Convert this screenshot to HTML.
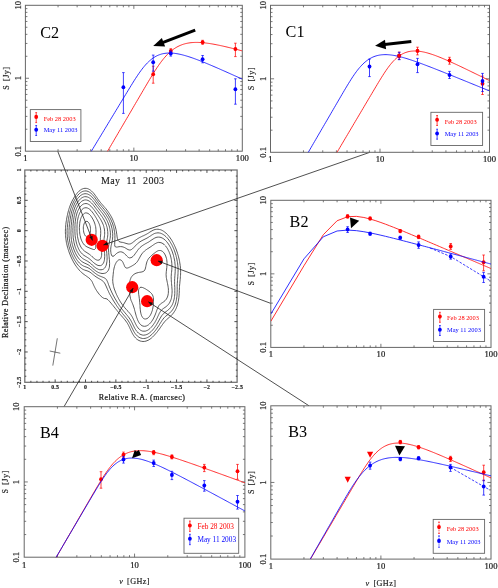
<!DOCTYPE html>
<html><head><meta charset="utf-8"><title>Component spectra</title>
<style>html,body{margin:0;padding:0;background:#fff;overflow:hidden}svg{display:block;will-change:transform}text{font-family:"Liberation Serif",serif}</style>
</head><body>
<svg width="498" height="588" viewBox="0 0 498 588">
<rect width="498" height="588" fill="#fff"/>
<defs>
<clipPath id="clC2"><rect x="25.4" y="5.3" width="216.90" height="145.90"/></clipPath>
<clipPath id="clC1"><rect x="270.5" y="5.3" width="219.00" height="147.00"/></clipPath>
<clipPath id="clB2"><rect x="270.8" y="200.3" width="220.20" height="147.10"/></clipPath>
<clipPath id="clB4"><rect x="24.2" y="406.7" width="220.70" height="150.50"/></clipPath>
<clipPath id="clB3"><rect x="270.8" y="405.8" width="220.20" height="153.30"/></clipPath>
<clipPath id="clmap"><rect x="24.8" y="170.0" width="212.5" height="212.3"/></clipPath>
</defs>
<path d="M146.0 341.1 L144.5 341.4 L143.0 341.5 L141.5 341.3 L140.2 341.0 L139.0 340.5 L138.0 340.0 L137.3 339.5 L136.5 338.9 L135.6 338.0 L135.0 337.3 L134.3 336.5 L133.6 335.5 L133.0 334.5 L132.5 333.7 L132.0 332.7 L131.5 331.7 L131.0 330.7 L130.5 329.6 L130.0 328.5 L129.6 327.5 L129.1 326.5 L128.6 325.5 L128.1 324.5 L127.5 323.5 L127.0 322.7 L126.5 322.0 L125.8 321.0 L125.0 320.0 L124.5 319.3 L123.8 318.5 L123.0 317.6 L122.5 317.0 L121.6 316.0 L121.0 315.3 L120.3 314.5 L119.5 313.5 L119.0 312.9 L118.2 312.0 L117.5 311.1 L117.0 310.5 L116.2 309.5 L115.5 308.7 L115.0 308.0 L114.2 307.0 L113.5 306.2 L113.0 305.5 L112.1 304.5 L111.5 303.7 L110.9 303.0 L110.0 302.0 L109.5 301.4 L108.7 300.5 L108.0 299.8 L107.0 299.0 L106.0 298.6 L104.5 298.5 L103.5 298.1 L102.5 297.5 L101.9 297.0 L101.0 296.2 L100.3 295.5 L99.5 294.6 L99.0 294.0 L98.3 293.0 L97.5 292.0 L97.0 291.2 L96.5 290.5 L95.9 289.5 L95.3 288.5 L94.8 287.5 L94.3 286.5 L93.8 285.5 L93.4 284.5 L92.9 283.5 L92.5 282.5 L92.0 281.5 L91.3 280.5 L90.5 279.5 L90.0 278.9 L89.0 278.0 L88.4 277.5 L87.5 276.9 L86.5 276.2 L85.5 275.5 L84.8 275.0 L84.0 274.4 L83.0 273.7 L82.2 273.0 L81.5 272.4 L80.6 271.5 L80.0 270.9 L79.1 270.0 L78.5 269.3 L77.9 268.5 L77.1 267.5 L76.5 266.7 L76.0 266.0 L75.3 265.0 L74.7 264.0 L74.1 263.0 L73.5 262.0 L73.0 261.0 L72.5 260.1 L72.0 259.1 L71.5 258.0 L71.0 257.0 L70.6 256.0 L70.2 255.0 L69.8 254.0 L69.4 253.0 L69.0 251.9 L68.5 250.5 L68.2 249.5 L67.9 248.5 L67.5 247.1 L67.2 246.0 L67.0 245.0 L66.6 243.5 L66.4 242.5 L66.2 241.0 L66.0 239.8 L65.8 238.5 L65.7 237.0 L65.5 235.5 L65.5 234.5 L65.4 233.0 L65.4 231.5 L65.4 230.0 L65.5 228.5 L65.5 227.5 L65.7 226.0 L65.8 224.5 L66.0 223.0 L66.1 222.0 L66.4 220.5 L66.5 219.5 L66.8 218.0 L67.0 217.0 L67.3 215.5 L67.5 214.5 L67.9 213.0 L68.1 212.0 L68.5 210.5 L68.8 209.5 L69.1 208.5 L69.5 207.3 L70.0 206.0 L70.3 205.0 L70.7 204.0 L71.2 203.0 L71.7 202.0 L72.1 201.0 L72.7 200.0 L73.2 199.0 L73.8 198.0 L74.4 197.0 L75.0 196.1 L75.5 195.3 L76.1 194.5 L76.9 193.5 L77.5 192.7 L78.2 192.0 L79.0 191.2 L79.8 190.5 L80.5 190.0 L81.5 189.3 L82.5 188.9 L83.6 188.5 L85.0 188.3 L86.5 188.4 L87.5 188.6 L88.5 189.0 L89.5 189.5 L90.5 190.2 L91.5 191.0 L92.0 191.5 L93.0 192.5 L93.5 193.1 L94.3 194.0 L95.0 195.0 L95.5 195.7 L96.1 196.5 L96.8 197.5 L97.5 198.5 L98.0 199.2 L98.5 200.0 L99.3 201.0 L100.0 201.9 L100.5 202.5 L101.3 203.5 L102.0 204.3 L102.6 205.0 L103.5 206.0 L104.0 206.6 L104.8 207.5 L105.5 208.3 L106.1 209.0 L106.9 210.0 L107.5 210.8 L108.0 211.5 L108.7 212.5 L109.4 213.5 L110.0 214.5 L110.5 215.3 L111.0 216.2 L111.5 217.1 L112.0 218.1 L112.5 219.1 L113.0 220.3 L113.5 221.4 L113.9 222.5 L114.3 223.5 L114.6 224.5 L115.0 225.7 L115.4 227.0 L115.6 228.0 L116.0 229.5 L116.2 230.5 L116.4 232.0 L116.6 233.0 L116.8 234.5 L117.0 236.0 L117.1 237.0 L117.4 238.5 L117.7 239.5 L118.1 240.5 L119.0 241.5 L120.0 241.9 L121.0 242.2 L122.5 242.4 L123.5 242.6 L124.8 243.0 L126.0 243.4 L127.0 243.7 L128.3 244.0 L129.5 244.0 L130.5 243.8 L131.5 243.3 L132.5 242.7 L133.3 242.0 L134.0 241.5 L135.0 240.6 L135.8 240.0 L136.5 239.5 L137.5 238.8 L138.5 238.2 L139.5 237.6 L140.5 237.1 L141.5 236.6 L142.5 236.1 L143.5 235.7 L144.5 235.2 L145.5 234.7 L146.5 234.2 L147.5 233.6 L148.5 233.0 L149.2 232.5 L150.0 232.0 L151.0 231.4 L152.0 230.8 L153.0 230.3 L154.0 229.8 L155.2 229.5 L156.5 229.3 L158.0 229.2 L159.5 229.5 L160.5 229.7 L161.5 230.1 L162.5 230.6 L163.5 231.2 L164.5 231.9 L165.3 232.5 L166.0 233.1 L166.9 234.0 L167.5 234.6 L168.3 235.5 L169.0 236.4 L169.5 237.0 L170.2 238.0 L170.9 239.0 L171.5 239.9 L172.0 240.8 L172.5 241.6 L173.0 242.5 L173.5 243.5 L174.0 244.5 L174.5 245.6 L175.0 246.7 L175.5 247.8 L176.0 249.0 L176.4 250.0 L176.7 251.0 L177.1 252.0 L177.5 253.3 L177.9 254.5 L178.2 255.5 L178.5 256.8 L178.8 258.0 L179.1 259.0 L179.4 260.5 L179.6 261.5 L179.8 263.0 L180.0 264.0 L180.2 265.5 L180.4 267.0 L180.5 268.5 L180.6 269.5 L180.6 271.0 L180.6 272.5 L180.6 274.0 L180.5 275.5 L180.4 276.5 L180.3 278.0 L180.2 279.5 L180.0 281.0 L179.9 282.0 L179.8 283.5 L179.6 285.0 L179.5 286.5 L179.5 287.5 L179.4 289.0 L179.3 290.5 L179.3 292.0 L179.2 293.5 L179.1 295.0 L179.0 296.0 L178.9 297.5 L178.7 299.0 L178.5 300.1 L178.3 301.5 L178.0 302.7 L177.7 304.0 L177.4 305.0 L177.0 306.2 L176.5 307.5 L176.1 308.5 L175.6 309.5 L175.1 310.5 L174.5 311.4 L174.0 312.2 L173.4 313.0 L172.6 314.0 L172.0 314.7 L171.2 315.5 L170.5 316.2 L169.6 317.0 L169.0 317.5 L168.0 318.4 L167.3 319.0 L166.5 319.7 L165.7 320.5 L165.0 321.3 L164.4 322.0 L163.6 323.0 L163.0 323.8 L162.5 324.5 L161.8 325.5 L161.1 326.5 L160.5 327.4 L160.0 328.1 L159.4 329.0 L158.6 330.0 L158.0 330.8 L157.5 331.5 L156.7 332.5 L156.0 333.3 L155.4 334.0 L154.5 335.0 L154.0 335.6 L153.1 336.5 L152.5 337.1 L151.5 338.0 L150.9 338.5 L150.0 339.1 L149.0 339.8 L148.0 340.3 L147.0 340.7 L146.0 341.1ZM143.5 338.5 L142.5 338.5 L141.0 338.1 L140.0 337.8 L139.0 337.2 L138.0 336.6 L137.3 336.0 L136.5 335.2 L135.9 334.5 L135.1 333.5 L134.5 332.6 L134.0 331.8 L133.5 330.9 L133.0 329.9 L132.5 328.9 L132.0 327.9 L131.5 326.8 L131.0 325.8 L130.5 324.7 L130.0 323.8 L129.5 322.8 L129.0 322.0 L128.4 321.0 L127.7 320.0 L127.0 319.0 L126.5 318.4 L125.8 317.5 L125.0 316.5 L124.5 315.9 L123.7 315.0 L123.0 314.1 L122.5 313.5 L121.7 312.5 L121.0 311.6 L120.5 311.0 L119.7 310.0 L119.0 309.0 L118.5 308.3 L117.9 307.5 L117.2 306.5 L116.5 305.5 L116.0 304.7 L115.5 303.9 L114.9 303.0 L114.3 302.0 L113.6 301.0 L113.0 300.0 L112.5 299.1 L112.0 298.2 L111.5 297.3 L111.0 296.4 L110.5 295.5 L109.9 294.5 L109.4 293.5 L108.9 292.5 L108.5 291.5 L108.0 290.5 L107.5 289.4 L107.0 288.2 L106.5 287.0 L106.0 286.0 L105.6 285.0 L105.1 284.0 L104.5 283.0 L104.0 282.3 L103.3 281.5 L102.5 280.8 L101.5 280.1 L100.6 279.5 L99.7 279.0 L98.8 278.5 L97.9 278.0 L97.0 277.4 L96.0 276.8 L95.0 276.1 L94.3 275.5 L93.5 274.9 L92.5 274.1 L91.8 273.5 L91.0 272.9 L90.0 272.2 L89.0 271.6 L88.0 271.2 L87.0 270.8 L86.0 270.5 L84.5 270.0 L83.5 269.6 L82.5 269.1 L81.6 268.5 L81.0 268.0 L80.0 267.2 L79.3 266.5 L78.5 265.6 L78.0 265.0 L77.2 264.0 L76.5 263.1 L76.0 262.3 L75.5 261.5 L74.8 260.5 L74.3 259.5 L73.7 258.5 L73.2 257.5 L72.7 256.5 L72.2 255.5 L71.8 254.5 L71.4 253.5 L71.0 252.5 L70.5 251.2 L70.1 250.0 L69.8 249.0 L69.5 248.0 L69.0 246.5 L68.8 245.5 L68.5 244.4 L68.2 243.0 L68.0 241.9 L67.7 240.5 L67.5 239.0 L67.4 238.0 L67.3 236.5 L67.2 235.0 L67.1 233.5 L67.1 232.0 L67.1 230.5 L67.2 229.0 L67.3 227.5 L67.5 226.0 L67.6 225.0 L67.7 223.5 L68.0 222.0 L68.1 221.0 L68.3 219.5 L68.5 218.5 L68.8 217.0 L69.0 215.9 L69.3 214.5 L69.5 213.5 L69.8 212.0 L70.1 211.0 L70.5 209.6 L70.8 208.5 L71.2 207.5 L71.5 206.5 L72.0 205.3 L72.5 204.1 L73.0 203.0 L73.5 202.0 L74.0 201.0 L74.5 200.1 L75.0 199.2 L75.5 198.4 L76.1 197.5 L76.8 196.5 L77.5 195.6 L78.0 195.0 L79.0 194.0 L79.5 193.5 L80.5 192.7 L81.5 192.0 L82.5 191.5 L83.5 191.2 L84.5 191.0 L86.0 190.9 L87.0 191.1 L88.2 191.5 L89.2 192.0 L90.0 192.5 L91.0 193.3 L91.8 194.0 L92.5 194.7 L93.2 195.5 L94.0 196.5 L94.5 197.1 L95.2 198.0 L95.9 199.0 L96.5 199.8 L97.0 200.5 L97.7 201.5 L98.4 202.5 L99.0 203.2 L99.6 204.0 L100.4 205.0 L101.0 205.7 L101.7 206.5 L102.5 207.4 L103.0 208.0 L103.9 209.0 L104.5 209.7 L105.1 210.5 L105.9 211.5 L106.5 212.3 L107.0 213.0 L107.7 214.0 L108.3 215.0 L108.9 216.0 L109.5 217.0 L110.0 217.9 L110.5 218.9 L111.0 219.9 L111.5 221.0 L111.9 222.0 L112.3 223.0 L112.7 224.0 L113.0 225.0 L113.4 226.5 L113.7 227.5 L114.0 228.8 L114.2 230.0 L114.5 231.5 L114.6 232.5 L114.8 234.0 L114.9 235.5 L114.9 237.0 L114.9 238.5 L114.9 240.0 L114.8 241.5 L114.7 243.0 L114.7 244.5 L114.8 246.0 L115.5 247.0 L116.5 247.1 L117.5 247.0 L119.0 246.7 L120.5 246.6 L122.0 246.7 L123.2 247.0 L124.5 247.5 L125.4 248.0 L126.2 248.5 L127.0 249.0 L128.0 249.6 L129.3 250.0 L130.3 250.0 L131.5 249.5 L132.3 249.0 L133.0 248.3 L133.8 247.5 L134.5 246.8 L135.2 246.0 L136.0 245.2 L136.7 244.5 L137.5 243.7 L138.4 243.0 L139.0 242.5 L140.0 241.8 L141.0 241.2 L142.0 240.6 L143.0 240.1 L144.0 239.6 L145.0 239.1 L146.0 238.6 L147.0 238.1 L148.0 237.5 L148.8 237.0 L149.5 236.5 L150.5 235.9 L151.5 235.2 L152.5 234.6 L153.5 234.0 L154.5 233.5 L155.5 233.2 L156.5 233.0 L158.0 232.8 L159.5 233.0 L160.5 233.2 L161.5 233.6 L162.5 234.1 L163.5 234.7 L164.5 235.4 L165.2 236.0 L166.0 236.7 L166.8 237.5 L167.5 238.3 L168.1 239.0 L168.9 240.0 L169.5 240.9 L170.0 241.7 L170.5 242.5 L171.1 243.5 L171.7 244.5 L172.2 245.5 L172.7 246.5 L173.1 247.5 L173.6 248.5 L174.0 249.6 L174.5 250.9 L174.9 252.0 L175.2 253.0 L175.5 254.0 L176.0 255.5 L176.2 256.5 L176.5 257.5 L176.8 259.0 L177.0 260.0 L177.3 261.5 L177.5 262.7 L177.7 264.0 L177.8 265.5 L178.0 267.0 L178.0 268.0 L178.1 269.5 L178.1 271.0 L178.0 272.5 L178.0 273.5 L177.9 275.0 L177.8 276.5 L177.7 278.0 L177.5 279.5 L177.5 280.5 L177.4 282.0 L177.3 283.5 L177.2 285.0 L177.2 286.5 L177.2 288.0 L177.2 289.5 L177.2 291.0 L177.1 292.5 L177.1 294.0 L177.0 295.1 L176.9 296.5 L176.7 298.0 L176.5 299.4 L176.3 300.5 L176.0 301.8 L175.7 303.0 L175.4 304.0 L175.0 305.1 L174.5 306.3 L174.0 307.3 L173.5 308.3 L173.0 309.1 L172.4 310.0 L171.6 311.0 L171.0 311.7 L170.2 312.5 L169.5 313.2 L168.5 314.0 L167.9 314.5 L167.0 315.2 L166.0 316.0 L165.4 316.5 L164.5 317.4 L163.9 318.0 L163.1 319.0 L162.5 319.8 L162.0 320.5 L161.4 321.5 L160.7 322.5 L160.1 323.5 L159.5 324.5 L159.0 325.3 L158.5 326.1 L157.9 327.0 L157.2 328.0 L156.5 329.0 L156.0 329.7 L155.4 330.5 L154.6 331.5 L154.0 332.2 L153.3 333.0 L152.5 333.8 L151.8 334.5 L151.0 335.2 L150.0 336.0 L149.4 336.5 L148.5 337.0 L147.5 337.6 L146.4 338.0 L145.0 338.4 L143.6 338.5ZM145.0 335.0 L143.5 335.2 L142.2 335.0 L141.0 334.6 L140.0 334.2 L139.0 333.5 L138.4 333.0 L137.5 332.1 L136.9 331.5 L136.2 330.5 L135.5 329.5 L135.0 328.7 L134.5 327.8 L134.0 326.8 L133.5 325.8 L133.0 324.8 L132.5 323.7 L132.0 322.7 L131.5 321.7 L131.0 320.8 L130.5 319.9 L129.9 319.0 L129.2 318.0 L128.5 317.0 L128.0 316.4 L127.3 315.5 L126.5 314.6 L126.0 314.0 L125.2 313.0 L124.5 312.2 L123.9 311.5 L123.1 310.5 L122.5 309.8 L121.9 309.0 L121.1 308.0 L120.5 307.1 L120.0 306.4 L119.3 305.5 L118.7 304.5 L118.0 303.5 L117.5 302.7 L117.0 301.9 L116.5 301.0 L115.9 300.0 L115.3 299.0 L114.7 298.0 L114.2 297.0 L113.6 296.0 L113.1 295.0 L112.6 294.0 L112.1 293.0 L111.6 292.0 L111.2 291.0 L110.7 290.0 L110.3 289.0 L109.9 288.0 L109.5 287.0 L109.0 285.8 L108.5 284.5 L108.2 283.5 L107.8 282.5 L107.4 281.5 L106.9 280.5 L106.3 279.5 L105.5 278.6 L104.6 278.0 L103.6 277.5 L102.5 277.1 L101.5 276.7 L100.5 276.3 L99.5 275.9 L98.5 275.4 L97.5 274.9 L96.5 274.2 L95.5 273.5 L94.8 273.0 L94.0 272.3 L93.0 271.5 L92.4 271.0 L91.5 270.2 L90.6 269.5 L90.0 269.0 L89.0 268.3 L88.0 267.8 L87.0 267.3 L86.0 267.0 L84.7 266.5 L83.5 266.0 L82.6 265.5 L81.8 265.0 L81.0 264.4 L80.0 263.6 L79.4 263.0 L78.5 262.0 L78.0 261.4 L77.3 260.5 L76.6 259.5 L76.0 258.5 L75.5 257.7 L75.0 256.8 L74.5 255.8 L74.0 254.8 L73.5 253.7 L73.0 252.6 L72.6 251.5 L72.2 250.5 L71.8 249.5 L71.5 248.5 L71.0 247.0 L70.7 246.0 L70.5 245.0 L70.1 243.5 L69.9 242.5 L69.6 241.0 L69.5 240.0 L69.3 238.5 L69.1 237.0 L69.0 235.5 L69.0 234.5 L69.0 233.0 L69.0 231.5 L69.0 230.5 L69.1 229.0 L69.2 227.5 L69.3 226.0 L69.5 224.5 L69.6 223.5 L69.8 222.0 L70.0 220.5 L70.1 219.5 L70.4 218.0 L70.5 217.0 L70.8 215.5 L71.0 214.5 L71.3 213.0 L71.6 212.0 L72.0 210.5 L72.3 209.5 L72.6 208.5 L73.0 207.4 L73.5 206.1 L74.0 205.0 L74.4 204.0 L74.9 203.0 L75.4 202.0 L76.0 201.1 L76.5 200.2 L77.0 199.5 L77.7 198.5 L78.5 197.6 L79.0 197.0 L80.0 196.0 L80.6 195.5 L81.5 194.9 L82.5 194.3 L83.5 194.0 L85.0 193.7 L86.5 193.8 L87.5 194.0 L88.6 194.5 L89.5 195.0 L90.5 195.7 L91.4 196.5 L92.0 197.1 L92.9 198.0 L93.5 198.8 L94.1 199.5 L94.9 200.5 L95.5 201.4 L96.0 202.0 L96.7 203.0 L97.4 204.0 L98.0 204.7 L98.6 205.5 L99.4 206.5 L100.0 207.2 L100.6 208.0 L101.5 209.0 L102.0 209.6 L102.7 210.5 L103.5 211.4 L104.0 212.1 L104.7 213.0 L105.5 214.0 L106.0 214.8 L106.5 215.5 L107.1 216.5 L107.7 217.5 L108.3 218.5 L108.8 219.5 L109.3 220.5 L109.7 221.5 L110.1 222.5 L110.5 223.5 L111.0 224.9 L111.3 226.0 L111.6 227.0 L112.0 228.5 L112.2 229.5 L112.4 231.0 L112.5 232.0 L112.7 233.5 L112.7 235.0 L112.7 236.5 L112.6 238.0 L112.5 239.2 L112.3 240.5 L112.0 242.0 L111.8 243.0 L111.5 244.3 L111.2 245.5 L111.0 246.6 L110.8 248.0 L110.7 249.5 L110.7 251.0 L110.9 252.5 L111.0 253.5 L111.5 255.0 L112.0 256.0 L113.0 256.4 L114.0 255.9 L114.9 255.0 L115.5 254.4 L116.5 253.5 L117.2 253.0 L118.0 252.5 L119.2 252.0 L120.5 251.8 L121.9 252.0 L123.0 252.5 L123.8 253.0 L124.5 253.6 L125.4 254.5 L126.0 255.1 L126.8 256.0 L127.5 256.7 L128.5 257.5 L129.5 257.9 L131.0 257.7 L132.0 257.2 L132.9 256.5 L133.5 255.9 L134.3 255.0 L135.0 254.0 L135.5 253.3 L136.1 252.5 L136.8 251.5 L137.5 250.5 L138.0 249.8 L138.7 249.0 L139.5 248.1 L140.1 247.5 L141.0 246.7 L141.9 246.0 L142.6 245.5 L143.5 244.9 L144.5 244.3 L145.5 243.7 L146.5 243.2 L147.5 242.6 L148.5 242.1 L149.4 241.5 L150.1 241.0 L151.0 240.4 L152.0 239.7 L153.0 239.1 L153.9 238.5 L154.8 238.0 L156.0 237.5 L157.0 237.2 L158.5 237.1 L160.0 237.2 L161.0 237.5 L162.2 238.0 L163.1 238.5 L164.0 239.1 L165.0 240.0 L165.6 240.5 L166.5 241.5 L167.0 242.1 L167.7 243.0 L168.4 244.0 L169.0 244.9 L169.5 245.8 L170.0 246.7 L170.5 247.6 L171.0 248.7 L171.5 249.8 L172.0 251.0 L172.4 252.0 L172.7 253.0 L173.0 254.0 L173.5 255.5 L173.7 256.5 L174.0 257.6 L174.3 259.0 L174.5 260.0 L174.8 261.5 L174.9 263.0 L175.0 264.0 L175.2 265.5 L175.2 267.0 L175.3 268.5 L175.2 270.0 L175.2 271.5 L175.1 273.0 L175.0 274.0 L174.9 275.5 L174.8 277.0 L174.7 278.5 L174.6 280.0 L174.6 281.5 L174.6 283.0 L174.6 284.5 L174.7 286.0 L174.8 287.5 L174.8 289.0 L174.8 290.5 L174.8 292.0 L174.8 293.5 L174.7 295.0 L174.5 296.5 L174.4 297.5 L174.2 299.0 L173.9 300.0 L173.5 301.5 L173.2 302.5 L172.8 303.5 L172.4 304.5 L171.8 305.5 L171.2 306.5 L170.5 307.5 L170.0 308.2 L169.2 309.0 L168.5 309.7 L167.5 310.5 L166.9 311.0 L166.0 311.6 L165.0 312.4 L164.2 313.0 L163.5 313.6 L162.7 314.5 L162.0 315.3 L161.5 316.0 L160.9 317.0 L160.3 318.0 L159.7 319.0 L159.2 320.0 L158.6 321.0 L158.1 322.0 L157.5 323.0 L157.0 323.9 L156.5 324.7 L156.0 325.5 L155.3 326.5 L154.6 327.5 L154.0 328.3 L153.5 329.0 L152.6 330.0 L152.0 330.7 L151.2 331.5 L150.5 332.1 L149.5 332.9 L148.7 333.5 L147.9 334.0 L146.8 334.5 L145.5 334.9ZM103.0 273.5 L102.0 273.5 L100.5 273.2 L99.5 272.9 L98.4 272.5 L97.5 272.0 L96.5 271.4 L95.5 270.7 L94.6 270.0 L94.0 269.5 L93.0 268.7 L92.3 268.0 L91.5 267.3 L90.5 266.5 L89.9 266.0 L89.0 265.3 L88.0 264.7 L87.0 264.2 L86.0 263.7 L85.0 263.3 L84.0 262.8 L83.0 262.3 L82.0 261.6 L81.2 261.0 L80.5 260.4 L79.6 259.5 L79.0 258.8 L78.4 258.0 L77.7 257.0 L77.0 256.0 L76.5 255.1 L76.0 254.2 L75.5 253.2 L75.0 252.2 L74.5 251.0 L74.1 250.0 L73.7 249.0 L73.4 248.0 L73.0 246.9 L72.6 245.5 L72.3 244.5 L72.0 243.0 L71.8 242.0 L71.5 240.5 L71.4 239.5 L71.2 238.0 L71.1 236.5 L71.0 235.2 L71.0 234.0 L70.9 232.5 L71.0 231.0 L71.0 229.7 L71.1 228.5 L71.1 227.0 L71.2 225.5 L71.4 224.0 L71.5 222.9 L71.6 221.5 L71.8 220.0 L72.0 218.8 L72.2 217.5 L72.4 216.0 L72.6 215.0 L73.0 213.5 L73.2 212.5 L73.5 211.5 L73.9 210.0 L74.3 209.0 L74.6 208.0 L75.0 207.0 L75.5 206.0 L76.0 204.9 L76.5 204.0 L77.1 203.0 L77.7 202.0 L78.5 201.0 L79.0 200.3 L79.8 199.5 L80.5 198.8 L81.5 198.0 L82.3 197.5 L83.5 197.0 L84.5 196.7 L86.0 196.7 L87.5 197.0 L88.5 197.4 L89.5 198.0 L90.2 198.5 L91.0 199.2 L91.8 200.0 L92.5 200.7 L93.2 201.5 L94.0 202.5 L94.5 203.2 L95.1 204.0 L95.9 205.0 L96.5 205.8 L97.0 206.5 L97.8 207.5 L98.5 208.4 L99.0 209.1 L99.8 210.0 L100.5 210.9 L101.0 211.5 L101.8 212.5 L102.5 213.4 L103.0 214.1 L103.7 215.0 L104.4 216.0 L105.0 217.0 L105.5 217.8 L106.0 218.7 L106.5 219.6 L107.0 220.5 L107.5 221.6 L108.0 222.8 L108.5 224.0 L108.8 225.0 L109.2 226.0 L109.5 227.3 L109.8 228.5 L110.0 229.6 L110.2 231.0 L110.4 232.5 L110.4 234.0 L110.4 235.5 L110.3 237.0 L110.1 238.5 L109.9 239.5 L109.6 241.0 L109.4 242.0 L109.1 243.5 L108.9 244.5 L108.6 246.0 L108.5 247.5 L108.5 248.5 L108.5 250.0 L108.6 251.0 L108.7 252.5 L108.8 254.0 L109.0 255.5 L109.1 256.5 L109.2 258.0 L109.4 259.5 L109.5 261.0 L109.5 262.0 L109.6 263.5 L109.5 265.0 L109.5 266.0 L109.3 267.5 L109.0 268.5 L108.5 269.9 L108.0 270.8 L107.5 271.5 L106.5 272.4 L105.5 273.0 L104.5 273.3 L103.1 273.5ZM145.5 331.1 L144.0 331.2 L142.5 331.1 L141.5 330.7 L140.5 330.2 L139.6 329.5 L139.0 329.0 L138.1 328.0 L137.5 327.2 L137.0 326.4 L136.4 325.5 L135.9 324.5 L135.4 323.5 L134.9 322.5 L134.4 321.5 L134.0 320.5 L133.5 319.5 L133.0 318.4 L132.5 317.4 L132.0 316.5 L131.4 315.5 L130.7 314.5 L130.0 313.6 L129.5 313.0 L128.6 312.0 L128.0 311.3 L127.2 310.5 L126.5 309.7 L125.9 309.0 L125.0 308.0 L124.5 307.4 L123.8 306.5 L123.0 305.5 L122.5 304.9 L121.9 304.0 L121.2 303.0 L120.5 302.0 L120.0 301.1 L119.5 300.3 L119.0 299.4 L118.5 298.5 L118.0 297.5 L117.4 296.5 L117.0 295.5 L116.5 294.5 L116.0 293.3 L115.5 292.1 L115.1 291.0 L114.7 290.0 L114.3 289.0 L114.0 287.9 L113.6 286.5 L113.4 285.5 L113.1 284.0 L112.9 283.0 L112.8 281.5 L112.7 280.0 L112.8 278.5 L112.9 277.0 L113.0 276.0 L113.2 274.5 L113.3 273.0 L113.5 271.5 L113.6 270.5 L113.9 269.0 L114.1 268.0 L114.5 266.5 L114.8 265.5 L115.2 264.5 L115.7 263.5 L116.2 262.5 L116.9 261.5 L117.5 260.8 L118.5 260.0 L119.5 259.7 L120.9 260.0 L121.6 260.5 L122.4 261.5 L123.0 262.5 L123.4 263.5 L123.9 264.5 L124.3 265.5 L124.7 266.5 L125.4 267.5 L126.2 268.0 L127.5 268.0 L128.5 267.7 L129.5 267.2 L130.5 266.7 L131.5 266.2 L132.5 265.6 L133.5 265.0 L134.3 264.5 L135.0 264.0 L136.0 263.1 L136.6 262.5 L137.4 261.5 L138.0 260.6 L138.5 259.7 L139.0 258.8 L139.5 257.9 L140.0 257.0 L140.5 256.0 L141.1 255.0 L141.8 254.0 L142.5 253.1 L143.0 252.5 L144.0 251.5 L144.5 251.0 L145.5 250.2 L146.5 249.5 L147.2 249.0 L148.0 248.5 L149.0 247.9 L150.0 247.2 L151.0 246.6 L151.8 246.0 L152.5 245.5 L153.5 244.8 L154.5 244.1 L155.5 243.5 L156.5 243.0 L157.5 242.6 L158.5 242.4 L160.0 242.5 L161.0 242.7 L162.0 243.1 L163.0 243.7 L164.0 244.4 L164.6 245.0 L165.5 245.9 L166.0 246.5 L166.7 247.5 L167.4 248.5 L167.9 249.5 L168.4 250.5 L168.9 251.5 L169.3 252.5 L169.7 253.5 L170.1 254.5 L170.5 255.9 L170.8 257.0 L171.0 258.0 L171.3 259.5 L171.5 260.7 L171.7 262.0 L171.8 263.5 L171.9 265.0 L171.9 266.5 L171.9 268.0 L171.8 269.5 L171.7 271.0 L171.5 272.5 L171.4 273.5 L171.3 275.0 L171.2 276.5 L171.2 278.0 L171.3 279.5 L171.3 281.0 L171.5 282.5 L171.5 283.5 L171.7 285.0 L171.8 286.5 L171.9 288.0 L172.0 289.0 L172.1 290.5 L172.1 292.0 L172.0 293.5 L171.9 294.5 L171.8 296.0 L171.5 297.5 L171.3 298.5 L171.0 299.5 L170.5 300.8 L170.0 301.9 L169.5 302.8 L169.0 303.6 L168.3 304.5 L167.5 305.4 L166.8 306.0 L166.0 306.7 L165.0 307.4 L164.1 308.0 L163.4 308.5 L162.5 309.2 L161.6 310.0 L161.0 310.7 L160.4 311.5 L159.8 312.5 L159.2 313.5 L158.8 314.5 L158.3 315.5 L157.8 316.5 L157.4 317.5 L156.9 318.5 L156.4 319.5 L155.9 320.5 L155.3 321.5 L154.8 322.5 L154.1 323.5 L153.5 324.4 L153.0 325.1 L152.3 326.0 L151.5 327.0 L151.0 327.5 L150.0 328.5 L149.4 329.0 L148.5 329.7 L147.5 330.3 L146.5 330.7 L145.5 331.1ZM102.5 269.5 L101.0 269.8 L99.5 269.7 L98.5 269.4 L97.5 268.9 L96.5 268.4 L95.5 267.7 L94.6 267.0 L94.0 266.5 L93.0 265.6 L92.3 265.0 L91.5 264.2 L90.7 263.5 L90.0 262.9 L89.0 262.2 L88.0 261.5 L87.2 261.0 L86.3 260.5 L85.3 260.0 L84.4 259.5 L83.5 259.0 L82.5 258.3 L81.5 257.5 L81.0 257.0 L80.1 256.0 L79.5 255.3 L78.9 254.5 L78.3 253.5 L77.7 252.5 L77.1 251.5 L76.7 250.5 L76.2 249.5 L75.8 248.5 L75.4 247.5 L75.0 246.2 L74.6 245.0 L74.4 244.0 L74.0 242.5 L73.8 241.5 L73.6 240.0 L73.4 239.0 L73.2 237.5 L73.1 236.0 L73.0 234.5 L73.0 233.5 L72.9 232.0 L72.9 230.5 L72.9 229.0 L73.0 227.5 L73.0 226.5 L73.1 225.0 L73.2 223.5 L73.4 222.0 L73.5 220.8 L73.7 219.5 L73.9 218.0 L74.1 217.0 L74.3 215.5 L74.6 214.5 L74.9 213.0 L75.2 212.0 L75.6 211.0 L76.0 209.8 L76.5 208.5 L77.0 207.5 L77.5 206.5 L78.0 205.6 L78.5 204.8 L79.1 204.0 L79.9 203.0 L80.5 202.3 L81.4 201.5 L82.1 201.0 L83.0 200.5 L84.5 200.0 L85.5 199.9 L86.5 200.0 L88.0 200.4 L89.0 201.0 L89.8 201.5 L90.5 202.1 L91.5 203.0 L92.0 203.5 L92.9 204.5 L93.5 205.3 L94.1 206.0 L94.8 207.0 L95.5 207.9 L96.0 208.6 L96.7 209.5 L97.4 210.5 L98.0 211.2 L98.6 212.0 L99.3 213.0 L100.0 213.9 L100.5 214.5 L101.2 215.5 L101.9 216.5 L102.5 217.4 L103.0 218.2 L103.5 219.0 L104.1 220.0 L104.6 221.0 L105.1 222.0 L105.6 223.0 L106.0 224.1 L106.5 225.5 L106.8 226.5 L107.1 227.5 L107.4 229.0 L107.5 230.0 L107.7 231.5 L107.8 233.0 L107.8 234.5 L107.7 236.0 L107.5 237.4 L107.3 238.5 L107.0 240.0 L106.8 241.0 L106.6 242.5 L106.4 243.5 L106.3 245.0 L106.3 246.5 L106.3 248.0 L106.4 249.5 L106.5 250.5 L106.7 252.0 L106.8 253.5 L106.9 255.0 L107.0 256.3 L107.1 257.5 L107.1 259.0 L107.0 260.5 L106.9 261.5 L106.7 263.0 L106.5 264.0 L106.1 265.5 L105.6 266.5 L105.1 267.5 L104.5 268.2 L103.6 269.0 L102.6 269.5ZM146.0 326.1 L144.5 326.3 L143.0 326.1 L142.0 325.7 L141.0 325.0 L140.5 324.5 L139.6 323.5 L139.0 322.6 L138.5 321.7 L138.0 320.8 L137.5 319.6 L137.1 318.5 L136.7 317.5 L136.4 316.5 L136.0 315.2 L135.7 314.0 L135.4 313.0 L135.0 311.5 L134.7 310.5 L134.5 309.5 L134.1 308.0 L133.7 307.0 L133.4 306.0 L133.0 304.9 L132.5 303.7 L132.0 302.5 L131.6 301.5 L131.1 300.5 L130.8 299.5 L130.5 298.5 L130.2 297.0 L130.0 295.9 L129.8 294.5 L129.7 293.0 L129.6 291.5 L129.5 290.5 L129.4 289.0 L129.4 287.5 L129.4 286.0 L129.4 284.5 L129.5 283.5 L129.7 282.0 L130.0 280.5 L130.3 279.5 L130.7 278.5 L131.1 277.5 L131.8 276.5 L132.5 275.6 L133.1 275.0 L134.0 274.3 L135.0 273.7 L136.0 273.2 L137.0 272.9 L138.5 272.5 L139.5 272.3 L141.0 272.1 L142.0 271.9 L143.2 271.5 L144.0 271.0 L144.8 270.0 L145.2 269.0 L145.5 268.0 L145.8 266.5 L146.0 265.5 L146.3 264.0 L146.6 263.0 L147.0 261.6 L147.5 260.5 L148.0 259.5 L148.5 258.7 L149.1 258.0 L150.0 257.0 L150.5 256.5 L151.5 255.5 L152.1 255.0 L153.0 254.3 L154.0 253.5 L154.6 253.0 L155.5 252.3 L156.5 251.6 L157.5 251.0 L158.5 250.6 L159.5 250.5 L160.5 250.5 L161.8 251.0 L162.6 251.5 L163.5 252.3 L164.0 253.0 L164.7 254.0 L165.2 255.0 L165.7 256.0 L166.0 257.0 L166.5 258.5 L166.7 259.5 L166.9 261.0 L167.0 262.3 L167.0 263.5 L167.0 265.0 L166.9 266.0 L166.8 267.5 L166.6 269.0 L166.5 270.0 L166.3 271.5 L166.2 273.0 L166.1 274.5 L166.2 276.0 L166.3 277.5 L166.5 278.5 L166.8 280.0 L167.0 281.0 L167.3 282.5 L167.5 283.5 L167.8 285.0 L168.0 286.1 L168.2 287.5 L168.4 289.0 L168.4 290.5 L168.4 292.0 L168.3 293.5 L168.0 295.0 L167.8 296.0 L167.4 297.0 L167.0 298.0 L166.4 299.0 L165.7 300.0 L165.0 300.7 L164.1 301.5 L163.4 302.0 L162.5 302.6 L161.5 303.2 L160.5 303.9 L159.9 304.5 L159.0 305.5 L158.5 306.4 L158.0 307.3 L157.5 308.5 L157.1 309.5 L156.7 310.5 L156.4 311.5 L156.0 312.5 L155.5 313.9 L155.1 315.0 L154.6 316.0 L154.2 317.0 L153.7 318.0 L153.2 319.0 L152.6 320.0 L152.0 320.9 L151.5 321.6 L150.8 322.5 L150.0 323.4 L149.4 324.0 L148.5 324.8 L147.5 325.4 L146.5 325.9ZM100.5 265.6 L99.0 265.6 L98.0 265.4 L97.0 265.0 L96.0 264.4 L95.0 263.7 L94.1 263.0 L93.5 262.5 L92.5 261.6 L91.9 261.0 L91.0 260.2 L90.2 259.5 L89.5 258.9 L88.5 258.2 L87.5 257.5 L86.7 257.0 L85.8 256.5 L85.0 256.0 L84.0 255.4 L83.0 254.6 L82.3 254.0 L81.5 253.2 L80.9 252.5 L80.2 251.5 L79.5 250.5 L79.0 249.6 L78.5 248.6 L78.0 247.5 L77.6 246.5 L77.2 245.5 L76.9 244.5 L76.5 243.2 L76.2 242.0 L76.0 241.0 L75.7 239.5 L75.5 238.4 L75.3 237.0 L75.1 235.5 L75.0 234.0 L75.0 233.0 L74.9 231.5 L74.9 230.0 L74.9 228.5 L74.9 227.0 L75.0 225.5 L75.0 224.5 L75.1 223.0 L75.3 221.5 L75.5 220.0 L75.6 219.0 L75.9 217.5 L76.1 216.5 L76.5 215.0 L76.7 214.0 L77.0 213.0 L77.5 211.7 L78.0 210.5 L78.5 209.5 L79.0 208.6 L79.5 207.8 L80.0 207.0 L80.9 206.0 L81.5 205.4 L82.5 204.6 L83.5 204.0 L84.5 203.7 L86.0 203.5 L87.5 203.8 L88.5 204.3 L89.5 204.9 L90.2 205.5 L91.0 206.2 L91.7 207.0 L92.5 207.9 L93.0 208.5 L93.8 209.5 L94.5 210.4 L95.0 211.1 L95.6 212.0 L96.3 213.0 L97.0 214.0 L97.5 214.7 L98.1 215.5 L98.7 216.5 L99.4 217.5 L100.0 218.4 L100.5 219.2 L101.0 220.1 L101.5 221.0 L102.0 222.0 L102.5 223.0 L103.0 224.2 L103.5 225.5 L103.8 226.5 L104.0 227.5 L104.4 229.0 L104.5 230.0 L104.6 231.5 L104.7 233.0 L104.6 234.5 L104.5 235.5 L104.3 237.0 L104.1 238.5 L104.0 239.5 L103.8 241.0 L103.7 242.5 L103.7 244.0 L103.8 245.5 L103.9 247.0 L104.0 248.0 L104.2 249.5 L104.4 251.0 L104.5 252.3 L104.6 253.5 L104.7 255.0 L104.7 256.5 L104.6 258.0 L104.5 259.3 L104.3 260.5 L104.0 261.6 L103.5 262.9 L103.0 263.7 L102.4 264.5 L101.5 265.2 L100.5 265.6ZM145.5 319.0 L144.5 318.9 L143.5 318.4 L142.6 317.5 L142.0 316.5 L141.5 315.5 L141.2 314.5 L140.9 313.5 L140.6 312.0 L140.4 311.0 L140.3 309.5 L140.1 308.0 L140.0 306.5 L140.0 305.5 L139.9 304.0 L139.7 302.5 L139.6 301.0 L139.5 300.0 L139.3 298.5 L139.1 297.0 L139.0 296.0 L138.7 294.5 L138.6 293.0 L138.5 292.0 L138.5 290.9 L138.7 289.5 L139.1 288.5 L140.0 287.5 L141.0 287.2 L142.5 287.5 L143.5 287.9 L144.5 288.4 L145.5 288.9 L146.4 289.5 L147.2 290.0 L148.0 290.5 L149.0 291.3 L150.0 292.0 L150.5 292.5 L151.5 293.5 L152.0 294.2 L152.5 295.0 L153.0 296.2 L153.3 297.5 L153.5 299.0 L153.5 300.0 L153.5 301.5 L153.5 302.7 L153.4 304.0 L153.3 305.5 L153.0 307.0 L152.9 308.0 L152.5 309.5 L152.3 310.5 L151.9 311.5 L151.5 312.7 L151.0 313.9 L150.5 314.8 L150.0 315.7 L149.4 316.5 L148.5 317.5 L148.0 318.0 L147.0 318.6 L145.8 319.0ZM99.0 260.1 L97.5 260.2 L96.5 259.9 L95.5 259.4 L94.5 258.7 L93.7 258.0 L93.0 257.4 L92.0 256.5 L91.5 256.0 L90.5 255.2 L89.7 254.5 L89.0 254.0 L88.0 253.4 L87.0 252.7 L86.0 252.1 L85.1 251.5 L84.4 251.0 L83.5 250.2 L82.8 249.5 L82.0 248.6 L81.5 247.9 L80.9 247.0 L80.4 246.0 L79.9 245.0 L79.5 244.0 L79.0 242.7 L78.6 241.5 L78.4 240.5 L78.0 239.0 L77.8 238.0 L77.5 236.5 L77.4 235.5 L77.2 234.0 L77.1 232.5 L77.0 231.0 L77.0 230.0 L77.0 228.5 L77.0 227.0 L77.0 226.0 L77.1 224.5 L77.2 223.0 L77.4 221.5 L77.5 220.5 L77.8 219.0 L78.0 218.0 L78.4 216.5 L78.7 215.5 L79.1 214.5 L79.5 213.4 L80.0 212.4 L80.5 211.5 L81.2 210.5 L82.0 209.5 L82.6 209.0 L83.5 208.3 L84.5 207.9 L86.0 207.7 L87.5 208.0 L88.5 208.5 L89.3 209.0 L90.0 209.6 L91.0 210.5 L91.5 211.1 L92.2 212.0 L93.0 213.0 L93.5 213.7 L94.0 214.5 L94.7 215.5 L95.3 216.5 L95.9 217.5 L96.5 218.5 L97.0 219.4 L97.5 220.3 L98.0 221.3 L98.5 222.4 L99.0 223.5 L99.4 224.5 L99.7 225.5 L100.0 226.5 L100.4 228.0 L100.5 229.0 L100.7 230.5 L100.7 232.0 L100.7 233.5 L100.6 235.0 L100.5 236.0 L100.4 237.5 L100.3 239.0 L100.3 240.5 L100.4 242.0 L100.5 243.3 L100.6 244.5 L100.9 246.0 L101.0 247.0 L101.2 248.5 L101.4 250.0 L101.5 251.0 L101.6 252.5 L101.7 254.0 L101.6 255.5 L101.4 256.5 L101.0 257.8 L100.5 258.8 L99.9 259.5 L99.0 260.1ZM94.5 249.5 L93.5 249.5 L92.1 249.0 L91.0 248.6 L90.0 248.2 L89.0 247.8 L88.0 247.3 L87.0 246.9 L86.0 246.3 L85.0 245.5 L84.4 245.0 L83.6 244.0 L83.0 243.2 L82.5 242.4 L82.0 241.4 L81.5 240.3 L81.0 239.0 L80.7 238.0 L80.5 237.0 L80.1 235.5 L79.9 234.5 L79.7 233.0 L79.6 231.5 L79.5 230.3 L79.4 229.0 L79.4 227.5 L79.5 226.0 L79.6 225.0 L79.7 223.5 L79.9 222.0 L80.1 221.0 L80.5 219.5 L80.8 218.5 L81.2 217.5 L81.7 216.5 L82.2 215.5 L83.0 214.5 L83.5 214.0 L84.5 213.3 L85.5 212.9 L86.9 213.0 L88.0 213.4 L88.9 214.0 L89.5 214.5 L90.5 215.5 L91.0 216.2 L91.6 217.0 L92.2 218.0 L92.8 219.0 L93.3 220.0 L93.8 221.0 L94.2 222.0 L94.6 223.0 L95.0 224.3 L95.3 225.5 L95.6 226.5 L95.8 228.0 L95.9 229.5 L96.0 231.0 L96.0 232.5 L95.9 234.0 L95.8 235.5 L95.7 237.0 L95.7 238.5 L95.6 240.0 L95.6 241.5 L95.7 243.0 L95.8 244.5 L95.8 246.0 L95.7 247.5 L95.5 248.5 L94.5 249.5ZM88.0 236.8 L86.5 236.8 L85.5 236.0 L85.0 235.4 L84.5 234.4 L84.0 233.1 L83.7 232.0 L83.5 230.7 L83.4 229.5 L83.3 228.0 L83.4 226.5 L83.6 225.5 L84.0 224.0 L84.4 223.0 L85.0 222.1 L85.7 221.5 L87.0 221.3 L88.0 221.9 L88.5 222.5 L89.2 223.5 L89.6 224.5 L90.0 225.6 L90.3 227.0 L90.5 228.5 L90.5 229.5 L90.5 230.5 L90.3 232.0 L90.0 233.5 L89.7 234.5 L89.2 235.5 L88.5 236.5Z" stroke="#1c1c1c" stroke-width="0.72" fill="none" stroke-linejoin="round" clip-path="url(#clmap)"/>
<rect x="24.8" y="170.0" width="212.3" height="212.3" fill="none" stroke="#6e6e6e" stroke-width="1.25"/>
<path d="M30.87 382.3v-1.5M30.87 170.0v1.5M24.8 176.07h1.5M237.3 176.07h-1.5M36.94 382.3v-1.5M36.94 170.0v1.5M24.8 182.13h1.5M237.3 182.13h-1.5M43.01 382.3v-1.5M43.01 170.0v1.5M24.8 188.20h1.5M237.3 188.20h-1.5M49.09 382.3v-1.5M49.09 170.0v1.5M24.8 194.26h1.5M237.3 194.26h-1.5M55.16 382.3v-2.9M55.16 170.0v2.9M24.8 200.33h2.9M237.3 200.33h-2.9M61.23 382.3v-1.5M61.23 170.0v1.5M24.8 206.39h1.5M237.3 206.39h-1.5M67.30 382.3v-1.5M67.30 170.0v1.5M24.8 212.46h1.5M237.3 212.46h-1.5M73.37 382.3v-1.5M73.37 170.0v1.5M24.8 218.53h1.5M237.3 218.53h-1.5M79.44 382.3v-1.5M79.44 170.0v1.5M24.8 224.59h1.5M237.3 224.59h-1.5M85.51 382.3v-2.9M85.51 170.0v2.9M24.8 230.66h2.9M237.3 230.66h-2.9M91.59 382.3v-1.5M91.59 170.0v1.5M24.8 236.72h1.5M237.3 236.72h-1.5M97.66 382.3v-1.5M97.66 170.0v1.5M24.8 242.79h1.5M237.3 242.79h-1.5M103.73 382.3v-1.5M103.73 170.0v1.5M24.8 248.85h1.5M237.3 248.85h-1.5M109.80 382.3v-1.5M109.80 170.0v1.5M24.8 254.92h1.5M237.3 254.92h-1.5M115.87 382.3v-2.9M115.87 170.0v2.9M24.8 260.99h2.9M237.3 260.99h-2.9M121.94 382.3v-1.5M121.94 170.0v1.5M24.8 267.05h1.5M237.3 267.05h-1.5M128.01 382.3v-1.5M128.01 170.0v1.5M24.8 273.12h1.5M237.3 273.12h-1.5M134.09 382.3v-1.5M134.09 170.0v1.5M24.8 279.18h1.5M237.3 279.18h-1.5M140.16 382.3v-1.5M140.16 170.0v1.5M24.8 285.25h1.5M237.3 285.25h-1.5M146.23 382.3v-2.9M146.23 170.0v2.9M24.8 291.31h2.9M237.3 291.31h-2.9M152.30 382.3v-1.5M152.30 170.0v1.5M24.8 297.38h1.5M237.3 297.38h-1.5M158.37 382.3v-1.5M158.37 170.0v1.5M24.8 303.45h1.5M237.3 303.45h-1.5M164.44 382.3v-1.5M164.44 170.0v1.5M24.8 309.51h1.5M237.3 309.51h-1.5M170.51 382.3v-1.5M170.51 170.0v1.5M24.8 315.58h1.5M237.3 315.58h-1.5M176.59 382.3v-2.9M176.59 170.0v2.9M24.8 321.64h2.9M237.3 321.64h-2.9M182.66 382.3v-1.5M182.66 170.0v1.5M24.8 327.71h1.5M237.3 327.71h-1.5M188.73 382.3v-1.5M188.73 170.0v1.5M24.8 333.77h1.5M237.3 333.77h-1.5M194.80 382.3v-1.5M194.80 170.0v1.5M24.8 339.84h1.5M237.3 339.84h-1.5M200.87 382.3v-1.5M200.87 170.0v1.5M24.8 345.91h1.5M237.3 345.91h-1.5M206.94 382.3v-2.9M206.94 170.0v2.9M24.8 351.97h2.9M237.3 351.97h-2.9M213.01 382.3v-1.5M213.01 170.0v1.5M24.8 358.04h1.5M237.3 358.04h-1.5M219.09 382.3v-1.5M219.09 170.0v1.5M24.8 364.10h1.5M237.3 364.10h-1.5M225.16 382.3v-1.5M225.16 170.0v1.5M24.8 370.17h1.5M237.3 370.17h-1.5M231.23 382.3v-1.5M231.23 170.0v1.5M24.8 376.23h1.5M237.3 376.23h-1.5" stroke="#3a3a3a" stroke-width="0.9" fill="none"/>
<text x="24.8" y="389.3" font-size="5.9" font-family="Liberation Sans, sans-serif" text-anchor="middle" fill="#1a1a1a" font-weight="bold" stroke="#1a1a1a" stroke-width="0.15" letter-spacing="0.2">1</text>
<text transform="translate(21.1 170.0) rotate(-90)" font-size="5.9" font-family="Liberation Sans, sans-serif" text-anchor="middle" fill="#1a1a1a" font-weight="bold" stroke="#1a1a1a" stroke-width="0.15" letter-spacing="0.2">1</text>
<text x="55.2" y="389.3" font-size="5.9" font-family="Liberation Sans, sans-serif" text-anchor="middle" fill="#1a1a1a" font-weight="bold" stroke="#1a1a1a" stroke-width="0.15" letter-spacing="0.2">0.5</text>
<text transform="translate(21.1 200.3) rotate(-90)" font-size="5.9" font-family="Liberation Sans, sans-serif" text-anchor="middle" fill="#1a1a1a" font-weight="bold" stroke="#1a1a1a" stroke-width="0.15" letter-spacing="0.2">0.5</text>
<text x="85.5" y="389.3" font-size="5.9" font-family="Liberation Sans, sans-serif" text-anchor="middle" fill="#1a1a1a" font-weight="bold" stroke="#1a1a1a" stroke-width="0.15" letter-spacing="0.2">0</text>
<text transform="translate(21.1 230.7) rotate(-90)" font-size="5.9" font-family="Liberation Sans, sans-serif" text-anchor="middle" fill="#1a1a1a" font-weight="bold" stroke="#1a1a1a" stroke-width="0.15" letter-spacing="0.2">0</text>
<text x="115.9" y="389.3" font-size="5.9" font-family="Liberation Sans, sans-serif" text-anchor="middle" fill="#1a1a1a" font-weight="bold" stroke="#1a1a1a" stroke-width="0.15" letter-spacing="0.2">−0.5</text>
<text transform="translate(21.1 261.0) rotate(-90)" font-size="5.9" font-family="Liberation Sans, sans-serif" text-anchor="middle" fill="#1a1a1a" font-weight="bold" stroke="#1a1a1a" stroke-width="0.15" letter-spacing="0.2">−0.5</text>
<text x="146.2" y="389.3" font-size="5.9" font-family="Liberation Sans, sans-serif" text-anchor="middle" fill="#1a1a1a" font-weight="bold" stroke="#1a1a1a" stroke-width="0.15" letter-spacing="0.2">−1</text>
<text transform="translate(21.1 291.3) rotate(-90)" font-size="5.9" font-family="Liberation Sans, sans-serif" text-anchor="middle" fill="#1a1a1a" font-weight="bold" stroke="#1a1a1a" stroke-width="0.15" letter-spacing="0.2">−1</text>
<text x="176.6" y="389.3" font-size="5.9" font-family="Liberation Sans, sans-serif" text-anchor="middle" fill="#1a1a1a" font-weight="bold" stroke="#1a1a1a" stroke-width="0.15" letter-spacing="0.2">−1.5</text>
<text transform="translate(21.1 321.6) rotate(-90)" font-size="5.9" font-family="Liberation Sans, sans-serif" text-anchor="middle" fill="#1a1a1a" font-weight="bold" stroke="#1a1a1a" stroke-width="0.15" letter-spacing="0.2">−1.5</text>
<text x="206.9" y="389.3" font-size="5.9" font-family="Liberation Sans, sans-serif" text-anchor="middle" fill="#1a1a1a" font-weight="bold" stroke="#1a1a1a" stroke-width="0.15" letter-spacing="0.2">−2</text>
<text transform="translate(21.1 352.0) rotate(-90)" font-size="5.9" font-family="Liberation Sans, sans-serif" text-anchor="middle" fill="#1a1a1a" font-weight="bold" stroke="#1a1a1a" stroke-width="0.15" letter-spacing="0.2">−2</text>
<text x="237.3" y="389.3" font-size="5.9" font-family="Liberation Sans, sans-serif" text-anchor="middle" fill="#1a1a1a" font-weight="bold" stroke="#1a1a1a" stroke-width="0.15" letter-spacing="0.2">−2.5</text>
<text transform="translate(21.1 382.3) rotate(-90)" font-size="5.9" font-family="Liberation Sans, sans-serif" text-anchor="middle" fill="#1a1a1a" font-weight="bold" stroke="#1a1a1a" stroke-width="0.15" letter-spacing="0.2">−2.5</text>
<text x="142" y="399.7" font-size="8" font-family="Liberation Serif, serif" text-anchor="middle" fill="#1a1a1a" letter-spacing="0.4" stroke="#1a1a1a" stroke-width="0.24">Relative R.A. (marcsec)</text>
<text transform="translate(8.4 282.3) rotate(-90)" font-size="8" font-family="Liberation Serif, serif" text-anchor="middle" fill="#1a1a1a" letter-spacing="0.4" stroke="#1a1a1a" stroke-width="0.24">Relative Declination (marcsec)</text>
<text x="132.7" y="183.6" font-size="10" font-family="Liberation Serif, serif" text-anchor="middle" fill="#1a1a1a" letter-spacing="0.3" word-spacing="3.5" stroke="#1a1a1a" stroke-width="0.12">May 11 2003</text>
<path d="M57.3 338.3L52.8 365.6M49.7 351.0L60.3 353.2" stroke="#2a2a2a" stroke-width="0.65" fill="none"/>
<circle cx="91.7" cy="239.8" r="6.1" fill="#ff0000"/>
<circle cx="102.5" cy="245.8" r="6.1" fill="#ff0000"/>
<circle cx="156.7" cy="260.2" r="6.1" fill="#ff0000"/>
<circle cx="132.2" cy="287.2" r="6.1" fill="#ff0000"/>
<circle cx="147.1" cy="301.2" r="6.1" fill="#ff0000"/>
<path d="M57.7 151.2L92.5 240.5" stroke="#151515" stroke-width="0.75" fill="none"/>
<path d="M92.50 240.50L89.23 237.05L92.58 235.75z" fill="#111"/>
<path d="M369.6 152.4L103.4 245.0" stroke="#151515" stroke-width="0.75" fill="none"/>
<path d="M103.40 245.00L106.96 241.85L108.15 245.25z" fill="#111"/>
<path d="M270.8 303.4L158.0 261.0" stroke="#151515" stroke-width="0.75" fill="none"/>
<path d="M158.00 261.00L162.75 260.86L161.49 264.23z" fill="#111"/>
<path d="M64 406.7L133.2 288.0" stroke="#151515" stroke-width="0.75" fill="none"/>
<path d="M133.20 288.00L132.54 292.71L129.43 290.89z" fill="#111"/>
<path d="M309 405.8L148.3 301.8" stroke="#151515" stroke-width="0.75" fill="none"/>
<path d="M148.30 301.80L152.97 302.68L151.02 305.70z" fill="#111"/>
<rect x="25.4" y="5.3" width="216.90" height="145.90" fill="none" stroke="#666666" stroke-width="1"/>
<path d="M58.05 151.2v-2.0M58.05 5.3v2.0M77.14 151.2v-2.0M77.14 5.3v2.0M90.69 151.2v-2.0M90.69 5.3v2.0M101.20 151.2v-2.0M101.20 5.3v2.0M109.79 151.2v-2.0M109.79 5.3v2.0M117.05 151.2v-2.0M117.05 5.3v2.0M123.34 151.2v-2.0M123.34 5.3v2.0M128.89 151.2v-2.0M128.89 5.3v2.0M133.85 151.2v-3.6M133.85 5.3v3.6M166.50 151.2v-2.0M166.50 5.3v2.0M185.59 151.2v-2.0M185.59 5.3v2.0M199.14 151.2v-2.0M199.14 5.3v2.0M209.65 151.2v-2.0M209.65 5.3v2.0M218.24 151.2v-2.0M218.24 5.3v2.0M225.50 151.2v-2.0M225.50 5.3v2.0M231.79 151.2v-2.0M231.79 5.3v2.0M237.34 151.2v-2.0M237.34 5.3v2.0M25.4 129.24h2.0M242.3 129.24h-2.0M25.4 116.39h2.0M242.3 116.39h-2.0M25.4 107.28h2.0M242.3 107.28h-2.0M25.4 100.21h2.0M242.3 100.21h-2.0M25.4 94.43h2.0M242.3 94.43h-2.0M25.4 89.55h2.0M242.3 89.55h-2.0M25.4 85.32h2.0M242.3 85.32h-2.0M25.4 81.59h2.0M242.3 81.59h-2.0M25.4 78.25h3.6M242.3 78.25h-3.6M25.4 56.29h2.0M242.3 56.29h-2.0M25.4 43.44h2.0M242.3 43.44h-2.0M25.4 34.33h2.0M242.3 34.33h-2.0M25.4 27.26h2.0M242.3 27.26h-2.0M25.4 21.48h2.0M242.3 21.48h-2.0M25.4 16.60h2.0M242.3 16.60h-2.0M25.4 12.37h2.0M242.3 12.37h-2.0M25.4 8.64h2.0M242.3 8.64h-2.0" stroke="#585858" stroke-width="0.8" fill="none"/>
<rect x="270.5" y="5.3" width="219.00" height="147.00" fill="none" stroke="#666666" stroke-width="1"/>
<path d="M303.46 152.3v-2.0M303.46 5.3v2.0M322.74 152.3v-2.0M322.74 5.3v2.0M336.43 152.3v-2.0M336.43 5.3v2.0M347.04 152.3v-2.0M347.04 5.3v2.0M355.71 152.3v-2.0M355.71 5.3v2.0M363.04 152.3v-2.0M363.04 5.3v2.0M369.39 152.3v-2.0M369.39 5.3v2.0M374.99 152.3v-2.0M374.99 5.3v2.0M380.00 152.3v-3.6M380.00 5.3v3.6M412.96 152.3v-2.0M412.96 5.3v2.0M432.24 152.3v-2.0M432.24 5.3v2.0M445.93 152.3v-2.0M445.93 5.3v2.0M456.54 152.3v-2.0M456.54 5.3v2.0M465.21 152.3v-2.0M465.21 5.3v2.0M472.54 152.3v-2.0M472.54 5.3v2.0M478.89 152.3v-2.0M478.89 5.3v2.0M484.49 152.3v-2.0M484.49 5.3v2.0M270.5 130.17h2.0M489.5 130.17h-2.0M270.5 117.23h2.0M489.5 117.23h-2.0M270.5 108.05h2.0M489.5 108.05h-2.0M270.5 100.93h2.0M489.5 100.93h-2.0M270.5 95.11h2.0M489.5 95.11h-2.0M270.5 90.19h2.0M489.5 90.19h-2.0M270.5 85.92h2.0M489.5 85.92h-2.0M270.5 82.16h2.0M489.5 82.16h-2.0M270.5 78.80h3.6M489.5 78.80h-3.6M270.5 56.67h2.0M489.5 56.67h-2.0M270.5 43.73h2.0M489.5 43.73h-2.0M270.5 34.55h2.0M489.5 34.55h-2.0M270.5 27.43h2.0M489.5 27.43h-2.0M270.5 21.61h2.0M489.5 21.61h-2.0M270.5 16.69h2.0M489.5 16.69h-2.0M270.5 12.42h2.0M489.5 12.42h-2.0M270.5 8.66h2.0M489.5 8.66h-2.0" stroke="#585858" stroke-width="0.8" fill="none"/>
<rect x="270.8" y="200.3" width="220.20" height="147.10" fill="none" stroke="#666666" stroke-width="1"/>
<path d="M303.94 347.4v-2.0M303.94 200.3v2.0M323.33 347.4v-2.0M323.33 200.3v2.0M337.09 347.4v-2.0M337.09 200.3v2.0M347.76 347.4v-2.0M347.76 200.3v2.0M356.47 347.4v-2.0M356.47 200.3v2.0M363.85 347.4v-2.0M363.85 200.3v2.0M370.23 347.4v-2.0M370.23 200.3v2.0M375.86 347.4v-2.0M375.86 200.3v2.0M380.90 347.4v-3.6M380.90 200.3v3.6M414.04 347.4v-2.0M414.04 200.3v2.0M433.43 347.4v-2.0M433.43 200.3v2.0M447.19 347.4v-2.0M447.19 200.3v2.0M457.86 347.4v-2.0M457.86 200.3v2.0M466.57 347.4v-2.0M466.57 200.3v2.0M473.95 347.4v-2.0M473.95 200.3v2.0M480.33 347.4v-2.0M480.33 200.3v2.0M485.96 347.4v-2.0M485.96 200.3v2.0M270.8 325.26h2.0M491.0 325.26h-2.0M270.8 312.31h2.0M491.0 312.31h-2.0M270.8 303.12h2.0M491.0 303.12h-2.0M270.8 295.99h2.0M491.0 295.99h-2.0M270.8 290.17h2.0M491.0 290.17h-2.0M270.8 285.24h2.0M491.0 285.24h-2.0M270.8 280.98h2.0M491.0 280.98h-2.0M270.8 277.22h2.0M491.0 277.22h-2.0M270.8 273.85h3.6M491.0 273.85h-3.6M270.8 251.71h2.0M491.0 251.71h-2.0M270.8 238.76h2.0M491.0 238.76h-2.0M270.8 229.57h2.0M491.0 229.57h-2.0M270.8 222.44h2.0M491.0 222.44h-2.0M270.8 216.62h2.0M491.0 216.62h-2.0M270.8 211.69h2.0M491.0 211.69h-2.0M270.8 207.43h2.0M491.0 207.43h-2.0M270.8 203.67h2.0M491.0 203.67h-2.0" stroke="#585858" stroke-width="0.8" fill="none"/>
<rect x="24.2" y="406.7" width="220.70" height="150.50" fill="none" stroke="#666666" stroke-width="1"/>
<path d="M57.42 557.2v-2.0M57.42 406.7v2.0M76.85 557.2v-2.0M76.85 406.7v2.0M90.64 557.2v-2.0M90.64 406.7v2.0M101.33 557.2v-2.0M101.33 406.7v2.0M110.07 557.2v-2.0M110.07 406.7v2.0M117.46 557.2v-2.0M117.46 406.7v2.0M123.86 557.2v-2.0M123.86 406.7v2.0M129.50 557.2v-2.0M129.50 406.7v2.0M134.55 557.2v-3.6M134.55 406.7v3.6M167.77 557.2v-2.0M167.77 406.7v2.0M187.20 557.2v-2.0M187.20 406.7v2.0M200.99 557.2v-2.0M200.99 406.7v2.0M211.68 557.2v-2.0M211.68 406.7v2.0M220.42 557.2v-2.0M220.42 406.7v2.0M227.81 557.2v-2.0M227.81 406.7v2.0M234.21 557.2v-2.0M234.21 406.7v2.0M239.85 557.2v-2.0M239.85 406.7v2.0M24.2 534.55h2.0M244.9 534.55h-2.0M24.2 521.30h2.0M244.9 521.30h-2.0M24.2 511.89h2.0M244.9 511.89h-2.0M24.2 504.60h2.0M244.9 504.60h-2.0M24.2 498.64h2.0M244.9 498.64h-2.0M24.2 493.61h2.0M244.9 493.61h-2.0M24.2 489.24h2.0M244.9 489.24h-2.0M24.2 485.39h2.0M244.9 485.39h-2.0M24.2 481.95h3.6M244.9 481.95h-3.6M24.2 459.30h2.0M244.9 459.30h-2.0M24.2 446.05h2.0M244.9 446.05h-2.0M24.2 436.64h2.0M244.9 436.64h-2.0M24.2 429.35h2.0M244.9 429.35h-2.0M24.2 423.39h2.0M244.9 423.39h-2.0M24.2 418.36h2.0M244.9 418.36h-2.0M24.2 413.99h2.0M244.9 413.99h-2.0M24.2 410.14h2.0M244.9 410.14h-2.0" stroke="#585858" stroke-width="0.8" fill="none"/>
<rect x="270.8" y="405.8" width="220.20" height="153.30" fill="none" stroke="#666666" stroke-width="1"/>
<path d="M303.94 559.1v-2.0M303.94 405.8v2.0M323.33 559.1v-2.0M323.33 405.8v2.0M337.09 559.1v-2.0M337.09 405.8v2.0M347.76 559.1v-2.0M347.76 405.8v2.0M356.47 559.1v-2.0M356.47 405.8v2.0M363.85 559.1v-2.0M363.85 405.8v2.0M370.23 559.1v-2.0M370.23 405.8v2.0M375.86 559.1v-2.0M375.86 405.8v2.0M380.90 559.1v-3.6M380.90 405.8v3.6M414.04 559.1v-2.0M414.04 405.8v2.0M433.43 559.1v-2.0M433.43 405.8v2.0M447.19 559.1v-2.0M447.19 405.8v2.0M457.86 559.1v-2.0M457.86 405.8v2.0M466.57 559.1v-2.0M466.57 405.8v2.0M473.95 559.1v-2.0M473.95 405.8v2.0M480.33 559.1v-2.0M480.33 405.8v2.0M485.96 559.1v-2.0M485.96 405.8v2.0M270.8 536.03h2.0M491.0 536.03h-2.0M270.8 522.53h2.0M491.0 522.53h-2.0M270.8 512.95h2.0M491.0 512.95h-2.0M270.8 505.52h2.0M491.0 505.52h-2.0M270.8 499.45h2.0M491.0 499.45h-2.0M270.8 494.32h2.0M491.0 494.32h-2.0M270.8 489.88h2.0M491.0 489.88h-2.0M270.8 485.96h2.0M491.0 485.96h-2.0M270.8 482.45h3.6M491.0 482.45h-3.6M270.8 459.38h2.0M491.0 459.38h-2.0M270.8 445.88h2.0M491.0 445.88h-2.0M270.8 436.30h2.0M491.0 436.30h-2.0M270.8 428.87h2.0M491.0 428.87h-2.0M270.8 422.80h2.0M491.0 422.80h-2.0M270.8 417.67h2.0M491.0 417.67h-2.0M270.8 413.23h2.0M491.0 413.23h-2.0M270.8 409.31h2.0M491.0 409.31h-2.0" stroke="#585858" stroke-width="0.8" fill="none"/>
<text x="25.4" y="161.0" font-size="8.6" font-family="Liberation Serif, serif" text-anchor="middle" fill="#1a1a1a" stroke="#1a1a1a" stroke-width="0.22">1</text>
<text x="133.8" y="161.0" font-size="8.6" font-family="Liberation Serif, serif" text-anchor="middle" fill="#1a1a1a" stroke="#1a1a1a" stroke-width="0.22">10</text>
<text x="242.3" y="161.0" font-size="8.6" font-family="Liberation Serif, serif" text-anchor="middle" fill="#1a1a1a" stroke="#1a1a1a" stroke-width="0.22">100</text>
<text transform="translate(20.5 151.2) rotate(-90)" font-size="8.6" font-family="Liberation Serif, serif" text-anchor="middle" fill="#1a1a1a" stroke="#1a1a1a" stroke-width="0.22">0.1</text>
<text transform="translate(20.5 78.2) rotate(-90)" font-size="8.6" font-family="Liberation Serif, serif" text-anchor="middle" fill="#1a1a1a" stroke="#1a1a1a" stroke-width="0.22">1</text>
<text transform="translate(20.5 5.3) rotate(-90)" font-size="8.6" font-family="Liberation Serif, serif" text-anchor="middle" fill="#1a1a1a" stroke="#1a1a1a" stroke-width="0.22">10</text>
<text transform="translate(8.8 78.2) rotate(-90)" font-size="8.2" font-family="Liberation Serif, serif" text-anchor="middle" fill="#1a1a1a" letter-spacing="0.4" word-spacing="1.4" stroke="#1a1a1a" stroke-width="0.15">S [Jy]</text>
<text x="270.5" y="162.1" font-size="8.6" font-family="Liberation Serif, serif" text-anchor="middle" fill="#1a1a1a" stroke="#1a1a1a" stroke-width="0.22">1</text>
<text x="380.0" y="162.1" font-size="8.6" font-family="Liberation Serif, serif" text-anchor="middle" fill="#1a1a1a" stroke="#1a1a1a" stroke-width="0.22">10</text>
<text x="489.5" y="162.1" font-size="8.6" font-family="Liberation Serif, serif" text-anchor="middle" fill="#1a1a1a" stroke="#1a1a1a" stroke-width="0.22">100</text>
<text transform="translate(265.6 152.3) rotate(-90)" font-size="8.6" font-family="Liberation Serif, serif" text-anchor="middle" fill="#1a1a1a" stroke="#1a1a1a" stroke-width="0.22">0.1</text>
<text transform="translate(265.6 78.8) rotate(-90)" font-size="8.6" font-family="Liberation Serif, serif" text-anchor="middle" fill="#1a1a1a" stroke="#1a1a1a" stroke-width="0.22">1</text>
<text transform="translate(265.6 5.3) rotate(-90)" font-size="8.6" font-family="Liberation Serif, serif" text-anchor="middle" fill="#1a1a1a" stroke="#1a1a1a" stroke-width="0.22">10</text>
<text transform="translate(253.9 78.8) rotate(-90)" font-size="8.2" font-family="Liberation Serif, serif" text-anchor="middle" fill="#1a1a1a" letter-spacing="0.4" word-spacing="1.4" stroke="#1a1a1a" stroke-width="0.15">S [Jy]</text>
<text x="270.8" y="357.2" font-size="8.6" font-family="Liberation Serif, serif" text-anchor="middle" fill="#1a1a1a" stroke="#1a1a1a" stroke-width="0.22">1</text>
<text x="380.9" y="357.2" font-size="8.6" font-family="Liberation Serif, serif" text-anchor="middle" fill="#1a1a1a" stroke="#1a1a1a" stroke-width="0.22">10</text>
<text x="491.0" y="357.2" font-size="8.6" font-family="Liberation Serif, serif" text-anchor="middle" fill="#1a1a1a" stroke="#1a1a1a" stroke-width="0.22">100</text>
<text transform="translate(265.9 347.4) rotate(-90)" font-size="8.6" font-family="Liberation Serif, serif" text-anchor="middle" fill="#1a1a1a" stroke="#1a1a1a" stroke-width="0.22">0.1</text>
<text transform="translate(265.9 273.9) rotate(-90)" font-size="8.6" font-family="Liberation Serif, serif" text-anchor="middle" fill="#1a1a1a" stroke="#1a1a1a" stroke-width="0.22">1</text>
<text transform="translate(265.9 200.3) rotate(-90)" font-size="8.6" font-family="Liberation Serif, serif" text-anchor="middle" fill="#1a1a1a" stroke="#1a1a1a" stroke-width="0.22">10</text>
<text transform="translate(254.2 273.9) rotate(-90)" font-size="8.2" font-family="Liberation Serif, serif" text-anchor="middle" fill="#1a1a1a" letter-spacing="0.4" word-spacing="1.4" stroke="#1a1a1a" stroke-width="0.15">S [Jy]</text>
<text x="24.2" y="567.6" font-size="8.6" font-family="Liberation Serif, serif" text-anchor="middle" fill="#1a1a1a" stroke="#1a1a1a" stroke-width="0.22">1</text>
<text x="134.6" y="567.6" font-size="8.6" font-family="Liberation Serif, serif" text-anchor="middle" fill="#1a1a1a" stroke="#1a1a1a" stroke-width="0.22">10</text>
<text x="244.9" y="567.6" font-size="8.6" font-family="Liberation Serif, serif" text-anchor="middle" fill="#1a1a1a" stroke="#1a1a1a" stroke-width="0.22">100</text>
<text transform="translate(19.3 557.2) rotate(-90)" font-size="8.6" font-family="Liberation Serif, serif" text-anchor="middle" fill="#1a1a1a" stroke="#1a1a1a" stroke-width="0.22">0.1</text>
<text transform="translate(19.3 482.0) rotate(-90)" font-size="8.6" font-family="Liberation Serif, serif" text-anchor="middle" fill="#1a1a1a" stroke="#1a1a1a" stroke-width="0.22">1</text>
<text transform="translate(19.3 406.7) rotate(-90)" font-size="8.6" font-family="Liberation Serif, serif" text-anchor="middle" fill="#1a1a1a" stroke="#1a1a1a" stroke-width="0.22">10</text>
<text transform="translate(7.6 482.0) rotate(-90)" font-size="8.2" font-family="Liberation Serif, serif" text-anchor="middle" fill="#1a1a1a" letter-spacing="0.4" word-spacing="1.4" stroke="#1a1a1a" stroke-width="0.15">S [Jy]</text>
<text x="134.6" y="584.0" font-size="8.2" font-family="Liberation Serif, serif" text-anchor="middle" fill="#1a1a1a" letter-spacing="0.4" word-spacing="1.4" stroke="#1a1a1a" stroke-width="0.15"><tspan font-style="italic">ν</tspan> [GHz]</text>
<text x="270.8" y="569.1" font-size="8.6" font-family="Liberation Serif, serif" text-anchor="middle" fill="#1a1a1a" stroke="#1a1a1a" stroke-width="0.22">1</text>
<text x="380.9" y="569.1" font-size="8.6" font-family="Liberation Serif, serif" text-anchor="middle" fill="#1a1a1a" stroke="#1a1a1a" stroke-width="0.22">10</text>
<text x="491.0" y="569.1" font-size="8.6" font-family="Liberation Serif, serif" text-anchor="middle" fill="#1a1a1a" stroke="#1a1a1a" stroke-width="0.22">100</text>
<text transform="translate(265.9 559.1) rotate(-90)" font-size="8.6" font-family="Liberation Serif, serif" text-anchor="middle" fill="#1a1a1a" stroke="#1a1a1a" stroke-width="0.22">0.1</text>
<text transform="translate(265.9 482.5) rotate(-90)" font-size="8.6" font-family="Liberation Serif, serif" text-anchor="middle" fill="#1a1a1a" stroke="#1a1a1a" stroke-width="0.22">1</text>
<text transform="translate(265.9 405.8) rotate(-90)" font-size="8.6" font-family="Liberation Serif, serif" text-anchor="middle" fill="#1a1a1a" stroke="#1a1a1a" stroke-width="0.22">10</text>
<text transform="translate(254.2 482.5) rotate(-90)" font-size="8.2" font-family="Liberation Serif, serif" text-anchor="middle" fill="#1a1a1a" letter-spacing="0.4" word-spacing="1.4" stroke="#1a1a1a" stroke-width="0.15">S [Jy]</text>
<text x="380.9" y="585.9" font-size="8.2" font-family="Liberation Serif, serif" text-anchor="middle" fill="#1a1a1a" letter-spacing="0.4" word-spacing="1.4" stroke="#1a1a1a" stroke-width="0.15"><tspan font-style="italic">ν</tspan> [GHz]</text>
<path d="M25.40 291.65 L26.49 289.79 L27.58 287.93 L28.67 286.07 L29.76 284.20 L30.85 282.34 L31.94 280.48 L33.03 278.62 L34.12 276.75 L35.21 274.89 L36.30 273.03 L37.39 271.17 L38.48 269.30 L39.57 267.44 L40.66 265.58 L41.75 263.72 L42.84 261.85 L43.93 259.99 L45.02 258.13 L46.11 256.27 L47.20 254.40 L48.29 252.54 L49.38 250.68 L50.47 248.82 L51.56 246.95 L52.65 245.09 L53.74 243.23 L54.83 241.36 L55.92 239.50 L57.01 237.64 L58.10 235.78 L59.19 233.91 L60.28 232.05 L61.37 230.19 L62.46 228.33 L63.55 226.46 L64.64 224.60 L65.73 222.74 L66.82 220.88 L67.91 219.01 L69.00 217.15 L70.09 215.29 L71.18 213.43 L72.27 211.56 L73.36 209.70 L74.45 207.84 L75.54 205.98 L76.63 204.11 L77.72 202.25 L78.81 200.39 L79.90 198.53 L80.99 196.66 L82.08 194.80 L83.17 192.94 L84.26 191.08 L85.35 189.21 L86.44 187.35 L87.53 185.49 L88.62 183.62 L89.71 181.76 L90.80 179.90 L91.89 178.04 L92.98 176.17 L94.07 174.31 L95.16 172.45 L96.25 170.59 L97.34 168.72 L98.43 166.86 L99.52 165.00 L100.61 163.14 L101.70 161.27 L102.79 159.41 L103.88 157.55 L104.97 155.69 L106.06 153.82 L107.15 151.96 L108.24 150.10 L109.33 148.24 L110.42 146.37 L111.51 144.51 L112.60 142.65 L113.69 140.79 L114.78 138.92 L115.87 137.06 L116.96 135.20 L118.05 133.33 L119.14 131.47 L120.23 129.61 L121.32 127.75 L122.41 125.88 L123.50 124.02 L124.59 122.16 L125.68 120.30 L126.77 118.43 L127.86 116.57 L128.95 114.71 L130.04 112.85 L131.13 110.98 L132.22 109.12 L133.31 107.26 L134.39 105.40 L135.48 103.53 L136.57 101.67 L137.66 99.81 L138.75 97.95 L139.84 96.08 L140.93 94.22 L142.02 92.36 L143.11 90.50 L144.20 88.64 L145.29 86.79 L146.38 84.94 L147.47 83.10 L148.56 81.26 L149.65 79.44 L150.74 77.63 L151.83 75.84 L152.92 74.07 L154.01 72.32 L155.10 70.61 L156.19 68.93 L157.28 67.28 L158.37 65.69 L159.46 64.13 L160.55 62.63 L161.64 61.18 L162.73 59.79 L163.82 58.45 L164.91 57.17 L166.00 55.95 L167.09 54.80 L168.18 53.70 L169.27 52.67 L170.36 51.69 L171.45 50.78 L172.54 49.92 L173.63 49.12 L174.72 48.38 L175.81 47.69 L176.90 47.06 L177.99 46.47 L179.08 45.93 L180.17 45.44 L181.26 45.00 L182.35 44.59 L183.44 44.23 L184.53 43.91 L185.62 43.62 L186.71 43.37 L187.80 43.15 L188.89 42.97 L189.98 42.81 L191.07 42.68 L192.16 42.58 L193.25 42.50 L194.34 42.45 L195.43 42.42 L196.52 42.41 L197.61 42.42 L198.70 42.45 L199.79 42.49 L200.88 42.55 L201.97 42.63 L203.06 42.72 L204.15 42.83 L205.24 42.95 L206.33 43.08 L207.42 43.22 L208.51 43.37 L209.60 43.53 L210.69 43.71 L211.78 43.89 L212.87 44.07 L213.96 44.27 L215.05 44.47 L216.14 44.68 L217.23 44.90 L218.32 45.12 L219.41 45.34 L220.50 45.58 L221.59 45.81 L222.68 46.05 L223.77 46.30 L224.86 46.55 L225.95 46.80 L227.04 47.06 L228.13 47.32 L229.22 47.58 L230.31 47.84 L231.40 48.11 L232.49 48.38 L233.58 48.65 L234.67 48.93 L235.76 49.20 L236.85 49.48 L237.94 49.76 L239.03 50.04 L240.12 50.33 L241.21 50.61 L242.30 50.90" stroke="#ff0000" stroke-width="0.82" fill="none" stroke-linejoin="round" clip-path="url(#clC2)"/>
<path d="M153.20 66.20V83.20" stroke="#ff0000" stroke-width="0.75" fill="none"/>
<path d="M151.90 66.20h2.6M151.90 83.20h2.6" stroke="#ff0000" stroke-width="0.7" fill="none"/>
<ellipse cx="153.20" cy="74.20" rx="1.9" ry="2.05" fill="#ff0000"/>
<path d="M170.80 48.70V53.80" stroke="#ff0000" stroke-width="0.75" fill="none"/>
<path d="M169.50 48.70h2.6M169.50 53.80h2.6" stroke="#ff0000" stroke-width="0.7" fill="none"/>
<ellipse cx="170.80" cy="51.10" rx="1.9" ry="2.05" fill="#ff0000"/>
<path d="M202.60 40.30V44.30" stroke="#ff0000" stroke-width="0.75" fill="none"/>
<path d="M201.30 40.30h2.6M201.30 44.30h2.6" stroke="#ff0000" stroke-width="0.7" fill="none"/>
<ellipse cx="202.60" cy="42.20" rx="1.9" ry="2.05" fill="#ff0000"/>
<path d="M235.40 43.20V56.60" stroke="#ff0000" stroke-width="0.75" fill="none"/>
<path d="M234.10 43.20h2.6M234.10 56.60h2.6" stroke="#ff0000" stroke-width="0.7" fill="none"/>
<ellipse cx="235.40" cy="49.10" rx="1.9" ry="2.05" fill="#ff0000"/>
<path d="M25.40 260.32 L26.49 258.52 L27.58 256.71 L28.67 254.91 L29.76 253.11 L30.85 251.31 L31.94 249.50 L33.03 247.70 L34.12 245.90 L35.21 244.09 L36.30 242.29 L37.39 240.49 L38.48 238.69 L39.57 236.88 L40.66 235.08 L41.75 233.28 L42.84 231.47 L43.93 229.67 L45.02 227.87 L46.11 226.07 L47.20 224.26 L48.29 222.46 L49.38 220.66 L50.47 218.85 L51.56 217.05 L52.65 215.25 L53.74 213.45 L54.83 211.64 L55.92 209.84 L57.01 208.04 L58.10 206.24 L59.19 204.43 L60.28 202.63 L61.37 200.83 L62.46 199.02 L63.55 197.22 L64.64 195.42 L65.73 193.62 L66.82 191.81 L67.91 190.01 L69.00 188.21 L70.09 186.40 L71.18 184.60 L72.27 182.80 L73.36 181.00 L74.45 179.19 L75.54 177.39 L76.63 175.59 L77.72 173.79 L78.81 171.98 L79.90 170.18 L80.99 168.38 L82.08 166.57 L83.17 164.77 L84.26 162.97 L85.35 161.17 L86.44 159.36 L87.53 157.56 L88.62 155.76 L89.71 153.95 L90.80 152.15 L91.89 150.35 L92.98 148.55 L94.07 146.74 L95.16 144.94 L96.25 143.14 L97.34 141.33 L98.43 139.53 L99.52 137.73 L100.61 135.93 L101.70 134.12 L102.79 132.32 L103.88 130.52 L104.97 128.72 L106.06 126.91 L107.15 125.11 L108.24 123.31 L109.33 121.50 L110.42 119.70 L111.51 117.90 L112.60 116.10 L113.69 114.29 L114.78 112.49 L115.87 110.69 L116.96 108.88 L118.05 107.08 L119.14 105.28 L120.23 103.48 L121.32 101.67 L122.41 99.87 L123.50 98.07 L124.59 96.27 L125.68 94.47 L126.77 92.67 L127.86 90.87 L128.95 89.08 L130.04 87.30 L131.13 85.52 L132.22 83.76 L133.31 82.01 L134.39 80.28 L135.48 78.58 L136.57 76.91 L137.66 75.27 L138.75 73.67 L139.84 72.11 L140.93 70.61 L142.02 69.15 L143.11 67.76 L144.20 66.43 L145.29 65.16 L146.38 63.96 L147.47 62.82 L148.56 61.75 L149.65 60.76 L150.74 59.83 L151.83 58.96 L152.92 58.17 L154.01 57.44 L155.10 56.78 L156.19 56.18 L157.28 55.64 L158.37 55.15 L159.46 54.73 L160.55 54.36 L161.64 54.03 L162.73 53.76 L163.82 53.54 L164.91 53.36 L166.00 53.22 L167.09 53.12 L168.18 53.06 L169.27 53.03 L170.36 53.04 L171.45 53.08 L172.54 53.15 L173.63 53.25 L174.72 53.37 L175.81 53.52 L176.90 53.69 L177.99 53.89 L179.08 54.10 L180.17 54.33 L181.26 54.58 L182.35 54.85 L183.44 55.13 L184.53 55.43 L185.62 55.74 L186.71 56.07 L187.80 56.40 L188.89 56.75 L189.98 57.10 L191.07 57.47 L192.16 57.85 L193.25 58.23 L194.34 58.62 L195.43 59.02 L196.52 59.43 L197.61 59.84 L198.70 60.26 L199.79 60.68 L200.88 61.11 L201.97 61.54 L203.06 61.98 L204.15 62.42 L205.24 62.87 L206.33 63.32 L207.42 63.77 L208.51 64.23 L209.60 64.69 L210.69 65.15 L211.78 65.61 L212.87 66.08 L213.96 66.55 L215.05 67.02 L216.14 67.49 L217.23 67.96 L218.32 68.44 L219.41 68.92 L220.50 69.40 L221.59 69.88 L222.68 70.36 L223.77 70.84 L224.86 71.32 L225.95 71.81 L227.04 72.29 L228.13 72.78 L229.22 73.26 L230.31 73.75 L231.40 74.24 L232.49 74.73 L233.58 75.22 L234.67 75.71 L235.76 76.20 L236.85 76.69 L237.94 77.18 L239.03 77.67 L240.12 78.17 L241.21 78.66 L242.30 79.15" stroke="#0000ff" stroke-width="0.82" fill="none" stroke-linejoin="round" clip-path="url(#clC2)"/>
<path d="M123.40 72.60V113.40" stroke="#0000ff" stroke-width="0.75" fill="none"/>
<path d="M122.10 72.60h2.6M122.10 113.40h2.6" stroke="#0000ff" stroke-width="0.7" fill="none"/>
<ellipse cx="123.40" cy="87.20" rx="1.9" ry="2.05" fill="#0000ff"/>
<path d="M153.20 55.10V71.20" stroke="#0000ff" stroke-width="0.75" fill="none"/>
<path d="M151.90 55.10h2.6M151.90 71.20h2.6" stroke="#0000ff" stroke-width="0.7" fill="none"/>
<ellipse cx="153.20" cy="62.30" rx="1.9" ry="2.05" fill="#0000ff"/>
<path d="M170.80 51.00V56.10" stroke="#0000ff" stroke-width="0.75" fill="none"/>
<path d="M169.50 51.00h2.6M169.50 56.10h2.6" stroke="#0000ff" stroke-width="0.7" fill="none"/>
<ellipse cx="170.80" cy="53.50" rx="1.9" ry="2.05" fill="#0000ff"/>
<path d="M202.60 55.50V62.80" stroke="#0000ff" stroke-width="0.75" fill="none"/>
<path d="M201.30 55.50h2.6M201.30 62.80h2.6" stroke="#0000ff" stroke-width="0.7" fill="none"/>
<ellipse cx="202.60" cy="59.20" rx="1.9" ry="2.05" fill="#0000ff"/>
<path d="M235.40 78.80V104.20" stroke="#0000ff" stroke-width="0.75" fill="none"/>
<path d="M234.10 78.80h2.6M234.10 104.20h2.6" stroke="#0000ff" stroke-width="0.7" fill="none"/>
<ellipse cx="235.40" cy="89.30" rx="1.9" ry="2.05" fill="#0000ff"/>
<rect x="30.3" y="109.6" width="50.60" height="31.90" fill="#fff" stroke="#666666" stroke-width="0.9"/>
<path d="M36.20 112.60V122.60" stroke="#ff0000" stroke-width="0.75" fill="none"/>
<path d="M35.30 112.60h1.8M35.30 122.60h1.8" stroke="#ff0000" stroke-width="0.7" fill="none"/>
<ellipse cx="36.20" cy="116.90" rx="1.9" ry="2.05" fill="#ff0000"/>
<path d="M36.20 125.50V135.50" stroke="#0000ff" stroke-width="0.75" fill="none"/>
<path d="M35.30 125.50h1.8M35.30 135.50h1.8" stroke="#0000ff" stroke-width="0.7" fill="none"/>
<ellipse cx="36.20" cy="129.80" rx="1.9" ry="2.05" fill="#0000ff"/>
<text x="43.7" y="120.8" font-size="6.4" font-family="Liberation Serif, serif" fill="#ff0000">Feb 28 2003</text>
<text x="43.7" y="132.0" font-size="6.4" font-family="Liberation Serif, serif" fill="#0000ff">May 11 2003</text>
<text x="40.3" y="38.1" font-size="16.2" font-family="Liberation Serif, serif" fill="#000">C2</text>
<path d="M270.50 264.67 L271.60 262.81 L272.70 260.95 L273.80 259.10 L274.90 257.24 L276.00 255.38 L277.10 253.52 L278.20 251.66 L279.30 249.80 L280.40 247.94 L281.51 246.09 L282.61 244.23 L283.71 242.37 L284.81 240.51 L285.91 238.65 L287.01 236.79 L288.11 234.93 L289.21 233.08 L290.31 231.22 L291.41 229.36 L292.51 227.50 L293.61 225.64 L294.71 223.78 L295.81 221.92 L296.91 220.06 L298.01 218.21 L299.11 216.35 L300.21 214.49 L301.31 212.63 L302.41 210.77 L303.52 208.91 L304.62 207.05 L305.72 205.20 L306.82 203.34 L307.92 201.48 L309.02 199.62 L310.12 197.76 L311.22 195.90 L312.32 194.04 L313.42 192.18 L314.52 190.33 L315.62 188.47 L316.72 186.61 L317.82 184.75 L318.92 182.89 L320.02 181.03 L321.12 179.17 L322.22 177.32 L323.32 175.46 L324.42 173.60 L325.53 171.74 L326.63 169.88 L327.73 168.02 L328.83 166.16 L329.93 164.31 L331.03 162.45 L332.13 160.59 L333.23 158.73 L334.33 156.87 L335.43 155.01 L336.53 153.15 L337.63 151.29 L338.73 149.44 L339.83 147.58 L340.93 145.72 L342.03 143.86 L343.13 142.00 L344.23 140.14 L345.33 138.28 L346.43 136.43 L347.54 134.57 L348.64 132.71 L349.74 130.85 L350.84 128.99 L351.94 127.13 L353.04 125.27 L354.14 123.42 L355.24 121.56 L356.34 119.70 L357.44 117.84 L358.54 115.98 L359.64 114.12 L360.74 112.26 L361.84 110.40 L362.94 108.55 L364.04 106.69 L365.14 104.83 L366.24 102.97 L367.34 101.11 L368.44 99.25 L369.55 97.39 L370.65 95.54 L371.75 93.68 L372.85 91.82 L373.95 89.97 L375.05 88.12 L376.15 86.27 L377.25 84.43 L378.35 82.60 L379.45 80.79 L380.55 78.99 L381.65 77.21 L382.75 75.47 L383.85 73.75 L384.95 72.08 L386.05 70.45 L387.15 68.87 L388.25 67.35 L389.35 65.89 L390.45 64.49 L391.56 63.16 L392.66 61.90 L393.76 60.71 L394.86 59.60 L395.96 58.56 L397.06 57.60 L398.16 56.71 L399.26 55.89 L400.36 55.15 L401.46 54.48 L402.56 53.87 L403.66 53.33 L404.76 52.85 L405.86 52.44 L406.96 52.08 L408.06 51.78 L409.16 51.53 L410.26 51.33 L411.36 51.18 L412.46 51.08 L413.57 51.01 L414.67 50.99 L415.77 51.00 L416.87 51.05 L417.97 51.14 L419.07 51.25 L420.17 51.40 L421.27 51.57 L422.37 51.77 L423.47 51.99 L424.57 52.23 L425.67 52.50 L426.77 52.78 L427.87 53.09 L428.97 53.41 L430.07 53.75 L431.17 54.10 L432.27 54.46 L433.37 54.84 L434.47 55.23 L435.58 55.63 L436.68 56.04 L437.78 56.47 L438.88 56.90 L439.98 57.33 L441.08 57.78 L442.18 58.23 L443.28 58.70 L444.38 59.16 L445.48 59.63 L446.58 60.11 L447.68 60.60 L448.78 61.08 L449.88 61.57 L450.98 62.07 L452.08 62.57 L453.18 63.07 L454.28 63.58 L455.38 64.09 L456.48 64.60 L457.59 65.11 L458.69 65.63 L459.79 66.15 L460.89 66.67 L461.99 67.19 L463.09 67.72 L464.19 68.25 L465.29 68.77 L466.39 69.30 L467.49 69.83 L468.59 70.37 L469.69 70.90 L470.79 71.43 L471.89 71.97 L472.99 72.50 L474.09 73.04 L475.19 73.58 L476.29 74.12 L477.39 74.65 L478.49 75.19 L479.60 75.73 L480.70 76.27 L481.80 76.81 L482.90 77.36 L484.00 77.90 L485.10 78.44 L486.20 78.98 L487.30 79.53 L488.40 80.07 L489.50 80.61" stroke="#ff0000" stroke-width="0.82" fill="none" stroke-linejoin="round" clip-path="url(#clC1)"/>
<path d="M399.20 52.10V59.50" stroke="#ff0000" stroke-width="0.75" fill="none"/>
<path d="M397.90 52.10h2.6M397.90 59.50h2.6" stroke="#ff0000" stroke-width="0.7" fill="none"/>
<ellipse cx="399.20" cy="55.70" rx="1.9" ry="2.05" fill="#ff0000"/>
<path d="M417.50 47.20V54.90" stroke="#ff0000" stroke-width="0.75" fill="none"/>
<path d="M416.20 47.20h2.6M416.20 54.90h2.6" stroke="#ff0000" stroke-width="0.7" fill="none"/>
<ellipse cx="417.50" cy="50.90" rx="1.9" ry="2.05" fill="#ff0000"/>
<path d="M449.50 57.30V64.20" stroke="#ff0000" stroke-width="0.75" fill="none"/>
<path d="M448.20 57.30h2.6M448.20 64.20h2.6" stroke="#ff0000" stroke-width="0.7" fill="none"/>
<ellipse cx="449.50" cy="60.50" rx="1.9" ry="2.05" fill="#ff0000"/>
<path d="M482.50 76.10V94.50" stroke="#ff0000" stroke-width="0.75" fill="none"/>
<path d="M481.20 76.10h2.6M481.20 94.50h2.6" stroke="#ff0000" stroke-width="0.7" fill="none"/>
<ellipse cx="482.50" cy="83.80" rx="1.9" ry="2.05" fill="#ff0000"/>
<path d="M270.50 217.18 L271.60 215.29 L272.70 213.40 L273.80 211.51 L274.90 209.63 L276.00 207.74 L277.10 205.85 L278.20 203.96 L279.30 202.07 L280.40 200.18 L281.51 198.29 L282.61 196.40 L283.71 194.51 L284.81 192.62 L285.91 190.73 L287.01 188.84 L288.11 186.95 L289.21 185.06 L290.31 183.17 L291.41 181.28 L292.51 179.39 L293.61 177.50 L294.71 175.61 L295.81 173.72 L296.91 171.83 L298.01 169.94 L299.11 168.05 L300.21 166.16 L301.31 164.28 L302.41 162.39 L303.52 160.50 L304.62 158.61 L305.72 156.72 L306.82 154.83 L307.92 152.94 L309.02 151.05 L310.12 149.16 L311.22 147.27 L312.32 145.38 L313.42 143.49 L314.52 141.60 L315.62 139.71 L316.72 137.82 L317.82 135.93 L318.92 134.04 L320.02 132.15 L321.12 130.26 L322.22 128.37 L323.32 126.48 L324.42 124.59 L325.53 122.70 L326.63 120.82 L327.73 118.93 L328.83 117.04 L329.93 115.15 L331.03 113.26 L332.13 111.37 L333.23 109.48 L334.33 107.59 L335.43 105.70 L336.53 103.81 L337.63 101.92 L338.73 100.03 L339.83 98.15 L340.93 96.26 L342.03 94.38 L343.13 92.50 L344.23 90.64 L345.33 88.78 L346.43 86.93 L347.54 85.10 L348.64 83.30 L349.74 81.52 L350.84 79.77 L351.94 78.06 L353.04 76.40 L354.14 74.78 L355.24 73.21 L356.34 71.70 L357.44 70.26 L358.54 68.87 L359.64 67.55 L360.74 66.31 L361.84 65.13 L362.94 64.02 L364.04 62.98 L365.14 62.01 L366.24 61.11 L367.34 60.28 L368.44 59.52 L369.55 58.82 L370.65 58.19 L371.75 57.62 L372.85 57.10 L373.95 56.64 L375.05 56.24 L376.15 55.89 L377.25 55.58 L378.35 55.33 L379.45 55.11 L380.55 54.94 L381.65 54.81 L382.75 54.72 L383.85 54.66 L384.95 54.63 L386.05 54.64 L387.15 54.67 L388.25 54.74 L389.35 54.82 L390.45 54.94 L391.56 55.07 L392.66 55.23 L393.76 55.40 L394.86 55.60 L395.96 55.81 L397.06 56.04 L398.16 56.28 L399.26 56.54 L400.36 56.81 L401.46 57.10 L402.56 57.39 L403.66 57.70 L404.76 58.02 L405.86 58.34 L406.96 58.67 L408.06 59.02 L409.16 59.37 L410.26 59.72 L411.36 60.09 L412.46 60.46 L413.57 60.83 L414.67 61.21 L415.77 61.60 L416.87 61.99 L417.97 62.38 L419.07 62.78 L420.17 63.18 L421.27 63.59 L422.37 63.99 L423.47 64.41 L424.57 64.82 L425.67 65.24 L426.77 65.66 L427.87 66.08 L428.97 66.50 L430.07 66.92 L431.17 67.35 L432.27 67.78 L433.37 68.21 L434.47 68.64 L435.58 69.08 L436.68 69.51 L437.78 69.95 L438.88 70.38 L439.98 70.82 L441.08 71.26 L442.18 71.70 L443.28 72.14 L444.38 72.58 L445.48 73.02 L446.58 73.46 L447.68 73.90 L448.78 74.35 L449.88 74.79 L450.98 75.24 L452.08 75.68 L453.18 76.13 L454.28 76.57 L455.38 77.02 L456.48 77.46 L457.59 77.91 L458.69 78.36 L459.79 78.80 L460.89 79.25 L461.99 79.70 L463.09 80.15 L464.19 80.59 L465.29 81.04 L466.39 81.49 L467.49 81.94 L468.59 82.39 L469.69 82.84 L470.79 83.29 L471.89 83.74 L472.99 84.18 L474.09 84.63 L475.19 85.08 L476.29 85.53 L477.39 85.98 L478.49 86.43 L479.60 86.88 L480.70 87.33 L481.80 87.78 L482.90 88.23 L484.00 88.68 L485.10 89.13 L486.20 89.58 L487.30 90.03 L488.40 90.48 L489.50 90.93" stroke="#0000ff" stroke-width="0.82" fill="none" stroke-linejoin="round" clip-path="url(#clC1)"/>
<path d="M369.50 59.10V76.60" stroke="#0000ff" stroke-width="0.75" fill="none"/>
<path d="M368.20 59.10h2.6M368.20 76.60h2.6" stroke="#0000ff" stroke-width="0.7" fill="none"/>
<ellipse cx="369.50" cy="66.60" rx="1.9" ry="2.05" fill="#0000ff"/>
<path d="M399.20 52.30V59.70" stroke="#0000ff" stroke-width="0.75" fill="none"/>
<path d="M397.90 52.30h2.6M397.90 59.70h2.6" stroke="#0000ff" stroke-width="0.7" fill="none"/>
<ellipse cx="399.20" cy="55.90" rx="1.9" ry="2.05" fill="#0000ff"/>
<path d="M417.50 58.40V72.60" stroke="#0000ff" stroke-width="0.75" fill="none"/>
<path d="M416.20 58.40h2.6M416.20 72.60h2.6" stroke="#0000ff" stroke-width="0.7" fill="none"/>
<ellipse cx="417.50" cy="64.20" rx="1.9" ry="2.05" fill="#0000ff"/>
<path d="M449.50 71.40V78.50" stroke="#0000ff" stroke-width="0.75" fill="none"/>
<path d="M448.20 71.40h2.6M448.20 78.50h2.6" stroke="#0000ff" stroke-width="0.7" fill="none"/>
<ellipse cx="449.50" cy="75.00" rx="1.9" ry="2.05" fill="#0000ff"/>
<path d="M482.50 73.40V91.50" stroke="#0000ff" stroke-width="0.75" fill="none"/>
<path d="M481.20 73.40h2.6M481.20 91.50h2.6" stroke="#0000ff" stroke-width="0.7" fill="none"/>
<ellipse cx="482.50" cy="81.10" rx="1.9" ry="2.05" fill="#0000ff"/>
<ellipse cx="399.20" cy="55.70" rx="1.9" ry="2.05" fill="#ff0000"/>
<rect x="430.9" y="112.3" width="51.70" height="33.20" fill="#fff" stroke="#666666" stroke-width="0.9"/>
<path d="M437.10 115.50V125.50" stroke="#ff0000" stroke-width="0.75" fill="none"/>
<path d="M436.20 115.50h1.8M436.20 125.50h1.8" stroke="#ff0000" stroke-width="0.7" fill="none"/>
<ellipse cx="437.10" cy="119.80" rx="1.9" ry="2.05" fill="#ff0000"/>
<path d="M437.10 129.20V139.20" stroke="#0000ff" stroke-width="0.75" fill="none"/>
<path d="M436.20 129.20h1.8M436.20 139.20h1.8" stroke="#0000ff" stroke-width="0.7" fill="none"/>
<ellipse cx="437.10" cy="133.50" rx="1.9" ry="2.05" fill="#0000ff"/>
<text x="444.7" y="124.0" font-size="6.4" font-family="Liberation Serif, serif" fill="#ff0000">Feb 28 2003</text>
<text x="444.7" y="135.6" font-size="6.4" font-family="Liberation Serif, serif" fill="#0000ff">May 11 2003</text>
<text x="285.6" y="37.0" font-size="16.2" font-family="Liberation Serif, serif" fill="#000">C1</text>
<path d="M270.80 321.30 L303.94 265.75 L323.33 234.68 L337.09 220.75 L347.76 216.68 L356.47 216.39 L363.85 217.48 L370.23 219.06 L375.86 220.78 L380.90 222.50 L385.46 224.17 L389.62 225.75 L393.45 227.25 L396.99 228.67 L400.29 230.01 L403.37 231.27 L406.27 232.47 L409.01 233.61 L411.59 234.69 L414.04 235.72 L416.38 236.70 L418.60 237.64 L420.73 238.53 L422.76 239.40 L424.71 240.22 L426.59 241.02 L428.39 241.79 L430.13 242.53 L431.81 243.24 L433.43 243.93 L435.00 244.60 L436.52 245.25 L437.99 245.88 L439.42 246.49 L440.80 247.08 L442.15 247.66 L443.46 248.22 L444.73 248.76 L445.98 249.29 L447.19 249.81 L448.37 250.31 L449.52 250.81 L450.64 251.29 L451.74 251.76 L452.82 252.22 L453.87 252.67 L454.90 253.11 L455.90 253.54 L456.89 253.96 L457.86 254.38 L458.80 254.78 L459.73 255.18 L460.64 255.57 L461.54 255.95 L462.41 256.33 L463.28 256.70 L464.12 257.06 L464.95 257.42 L465.77 257.77 L466.57 258.11 L467.36 258.45 L468.14 258.78 L468.91 259.11 L469.66 259.43 L470.40 259.75 L471.13 260.06 L471.85 260.37 L472.56 260.67 L473.26 260.97 L473.95 261.27 L474.62 261.56 L475.29 261.85 L475.95 262.13 L476.60 262.41 L477.24 262.68 L477.88 262.95 L478.50 263.22 L479.12 263.49 L479.73 263.75 L480.33 264.00 L480.92 264.26 L481.51 264.51 L482.09 264.76 L482.66 265.00 L483.23 265.25 L483.79 265.49 L484.34 265.72 L484.89 265.96 L485.43 266.19 L485.96 266.42 L486.49 266.64 L487.01 266.87 L487.53 267.09 L488.04 267.31 L488.55 267.53 L489.05 267.74 L489.54 267.95 L490.03 268.16 L490.52 268.37 L491.00 268.58" stroke="#ff0000" stroke-width="0.82" fill="none" stroke-linejoin="round" clip-path="url(#clB2)"/>
<path d="M347.60 214.90V218.00" stroke="#ff0000" stroke-width="0.75" fill="none"/>
<path d="M346.30 214.90h2.6M346.30 218.00h2.6" stroke="#ff0000" stroke-width="0.7" fill="none"/>
<ellipse cx="347.60" cy="216.40" rx="1.9" ry="2.05" fill="#ff0000"/>
<path d="M370.10 217.00V220.00" stroke="#ff0000" stroke-width="0.75" fill="none"/>
<path d="M368.80 217.00h2.6M368.80 220.00h2.6" stroke="#ff0000" stroke-width="0.7" fill="none"/>
<ellipse cx="370.10" cy="218.50" rx="1.9" ry="2.05" fill="#ff0000"/>
<path d="M400.20 229.60V232.60" stroke="#ff0000" stroke-width="0.75" fill="none"/>
<path d="M398.90 229.60h2.6M398.90 232.60h2.6" stroke="#ff0000" stroke-width="0.7" fill="none"/>
<ellipse cx="400.20" cy="231.10" rx="1.9" ry="2.05" fill="#ff0000"/>
<path d="M418.60 235.20V238.60" stroke="#ff0000" stroke-width="0.75" fill="none"/>
<path d="M417.30 235.20h2.6M417.30 238.60h2.6" stroke="#ff0000" stroke-width="0.7" fill="none"/>
<ellipse cx="418.60" cy="236.90" rx="1.9" ry="2.05" fill="#ff0000"/>
<path d="M450.70 243.50V249.40" stroke="#ff0000" stroke-width="0.75" fill="none"/>
<path d="M449.40 243.50h2.6M449.40 249.40h2.6" stroke="#ff0000" stroke-width="0.7" fill="none"/>
<ellipse cx="450.70" cy="246.40" rx="1.9" ry="2.05" fill="#ff0000"/>
<path d="M483.60 255.00V270.80" stroke="#ff0000" stroke-width="0.75" fill="none"/>
<path d="M482.30 255.00h2.6M482.30 270.80h2.6" stroke="#ff0000" stroke-width="0.7" fill="none"/>
<ellipse cx="483.60" cy="262.30" rx="1.9" ry="2.05" fill="#ff0000"/>
<path d="M270.80 314.11 L303.94 258.86 L323.33 236.79 L337.09 230.99 L347.76 230.08 L356.47 230.67 L363.85 231.72 L370.23 232.91 L375.86 234.09 L380.90 235.23 L385.46 236.31 L389.62 237.32 L393.45 238.27 L396.99 239.17 L400.29 240.01 L403.37 240.80 L406.27 241.55 L409.01 242.26 L411.59 242.94 L414.04 243.58 L416.38 244.19 L418.60 244.78 L420.73 245.34 L422.76 245.87 L424.71 246.39 L426.59 246.89 L428.39 247.37 L430.13 247.83 L431.81 248.27 L433.43 248.70 L435.00 249.12 L436.52 249.52 L437.99 249.91 L439.42 250.29 L440.80 250.66 L442.15 251.02 L443.46 251.37 L444.73 251.71 L445.98 252.04 L447.19 252.36 L448.37 252.68 L449.52 252.98 L450.64 253.28 L451.74 253.57 L452.82 253.86 L453.87 254.14 L454.90 254.42 L455.90 254.68 L456.89 254.95 L457.86 255.20 L458.80 255.46 L459.73 255.70 L460.64 255.95 L461.54 256.19 L462.41 256.42 L463.28 256.65 L464.12 256.87 L464.95 257.10 L465.77 257.31 L466.57 257.53 L467.36 257.74 L468.14 257.95 L468.91 258.15 L469.66 258.35 L470.40 258.55 L471.13 258.75 L471.85 258.94 L472.56 259.13 L473.26 259.31 L473.95 259.50 L474.62 259.68 L475.29 259.86 L475.95 260.03 L476.60 260.20 L477.24 260.38 L477.88 260.55 L478.50 260.71 L479.12 260.88 L479.73 261.04 L480.33 261.20 L480.92 261.36 L481.51 261.51 L482.09 261.67 L482.66 261.82 L483.23 261.97 L483.79 262.12 L484.34 262.27 L484.89 262.42 L485.43 262.56 L485.96 262.70 L486.49 262.84 L487.01 262.98 L487.53 263.12 L488.04 263.26 L488.55 263.39 L489.05 263.53 L489.54 263.66 L490.03 263.79 L490.52 263.92 L491.00 264.05" stroke="#0000ff" stroke-width="0.82" fill="none" stroke-linejoin="round" clip-path="url(#clB2)"/>
<path d="M430 248.0L450.7 256.6L483.6 276.7L489.5 280.3" stroke="#0000ff" stroke-width="0.75" fill="none" stroke-dasharray="2.6 1.5"/>
<path d="M347.60 226.70V232.50" stroke="#0000ff" stroke-width="0.75" fill="none"/>
<path d="M346.30 226.70h2.6M346.30 232.50h2.6" stroke="#0000ff" stroke-width="0.7" fill="none"/>
<ellipse cx="347.60" cy="229.50" rx="1.9" ry="2.05" fill="#0000ff"/>
<path d="M370.10 232.20V235.20" stroke="#0000ff" stroke-width="0.75" fill="none"/>
<path d="M368.80 232.20h2.6M368.80 235.20h2.6" stroke="#0000ff" stroke-width="0.7" fill="none"/>
<ellipse cx="370.10" cy="233.70" rx="1.9" ry="2.05" fill="#0000ff"/>
<path d="M400.20 236.20V239.20" stroke="#0000ff" stroke-width="0.75" fill="none"/>
<path d="M398.90 236.20h2.6M398.90 239.20h2.6" stroke="#0000ff" stroke-width="0.7" fill="none"/>
<ellipse cx="400.20" cy="237.70" rx="1.9" ry="2.05" fill="#0000ff"/>
<path d="M418.60 241.90V248.30" stroke="#0000ff" stroke-width="0.75" fill="none"/>
<path d="M417.30 241.90h2.6M417.30 248.30h2.6" stroke="#0000ff" stroke-width="0.7" fill="none"/>
<ellipse cx="418.60" cy="245.10" rx="1.9" ry="2.05" fill="#0000ff"/>
<path d="M450.70 253.90V259.20" stroke="#0000ff" stroke-width="0.75" fill="none"/>
<path d="M449.40 253.90h2.6M449.40 259.20h2.6" stroke="#0000ff" stroke-width="0.7" fill="none"/>
<ellipse cx="450.70" cy="256.60" rx="1.9" ry="2.05" fill="#0000ff"/>
<path d="M483.60 272.40V282.50" stroke="#0000ff" stroke-width="0.75" fill="none"/>
<path d="M482.30 272.40h2.6M482.30 282.50h2.6" stroke="#0000ff" stroke-width="0.7" fill="none"/>
<ellipse cx="483.60" cy="276.70" rx="1.9" ry="2.05" fill="#0000ff"/>
<rect x="433.6" y="309.4" width="51.00" height="32.10" fill="#fff" stroke="#666666" stroke-width="0.9"/>
<path d="M439.90 312.30V322.30" stroke="#ff0000" stroke-width="0.75" fill="none"/>
<path d="M439.00 312.30h1.8M439.00 322.30h1.8" stroke="#ff0000" stroke-width="0.7" fill="none"/>
<ellipse cx="439.90" cy="316.60" rx="1.9" ry="2.05" fill="#ff0000"/>
<path d="M439.90 325.50V335.50" stroke="#0000ff" stroke-width="0.75" fill="none"/>
<path d="M439.00 325.50h1.8M439.00 335.50h1.8" stroke="#0000ff" stroke-width="0.7" fill="none"/>
<ellipse cx="439.90" cy="329.80" rx="1.9" ry="2.05" fill="#0000ff"/>
<text x="447.0" y="320.4" font-size="6.4" font-family="Liberation Serif, serif" fill="#ff0000">Feb 28 2003</text>
<text x="447.0" y="332.0" font-size="6.4" font-family="Liberation Serif, serif" fill="#0000ff">May 11 2003</text>
<text x="289.6" y="227.0" font-size="16.2" font-family="Liberation Serif, serif" fill="#000">B2</text>
<path d="M24.20 612.53 L25.31 610.62 L26.42 608.71 L27.53 606.80 L28.64 604.88 L29.75 602.97 L30.85 601.06 L31.96 599.15 L33.07 597.24 L34.18 595.33 L35.29 593.41 L36.40 591.50 L37.51 589.59 L38.62 587.68 L39.73 585.77 L40.84 583.86 L41.94 581.94 L43.05 580.03 L44.16 578.12 L45.27 576.21 L46.38 574.30 L47.49 572.38 L48.60 570.47 L49.71 568.56 L50.82 566.65 L51.93 564.74 L53.04 562.83 L54.14 560.91 L55.25 559.00 L56.36 557.09 L57.47 555.18 L58.58 553.27 L59.69 551.36 L60.80 549.44 L61.91 547.53 L63.02 545.62 L64.13 543.71 L65.23 541.80 L66.34 539.89 L67.45 537.97 L68.56 536.06 L69.67 534.15 L70.78 532.24 L71.89 530.33 L73.00 528.42 L74.11 526.50 L75.22 524.59 L76.33 522.68 L77.43 520.77 L78.54 518.86 L79.65 516.94 L80.76 515.03 L81.87 513.12 L82.98 511.21 L84.09 509.30 L85.20 507.39 L86.31 505.47 L87.42 503.56 L88.52 501.65 L89.63 499.74 L90.74 497.83 L91.85 495.92 L92.96 494.02 L94.07 492.12 L95.18 490.22 L96.29 488.34 L97.40 486.46 L98.51 484.60 L99.62 482.76 L100.72 480.93 L101.83 479.14 L102.94 477.38 L104.05 475.65 L105.16 473.97 L106.27 472.34 L107.38 470.75 L108.49 469.22 L109.60 467.75 L110.71 466.34 L111.81 464.99 L112.92 463.71 L114.03 462.49 L115.14 461.34 L116.25 460.26 L117.36 459.25 L118.47 458.30 L119.58 457.42 L120.69 456.61 L121.80 455.85 L122.91 455.16 L124.01 454.53 L125.12 453.95 L126.23 453.43 L127.34 452.96 L128.45 452.55 L129.56 452.18 L130.67 451.85 L131.78 451.57 L132.89 451.33 L134.00 451.13 L135.10 450.97 L136.21 450.84 L137.32 450.75 L138.43 450.69 L139.54 450.66 L140.65 450.65 L141.76 450.67 L142.87 450.72 L143.98 450.79 L145.09 450.88 L146.19 450.99 L147.30 451.12 L148.41 451.27 L149.52 451.43 L150.63 451.61 L151.74 451.81 L152.85 452.02 L153.96 452.24 L155.07 452.47 L156.18 452.72 L157.29 452.97 L158.39 453.24 L159.50 453.51 L160.61 453.80 L161.72 454.09 L162.83 454.39 L163.94 454.70 L165.05 455.01 L166.16 455.33 L167.27 455.65 L168.38 455.98 L169.48 456.32 L170.59 456.66 L171.70 457.00 L172.81 457.35 L173.92 457.70 L175.03 458.06 L176.14 458.41 L177.25 458.78 L178.36 459.14 L179.47 459.51 L180.58 459.88 L181.68 460.25 L182.79 460.62 L183.90 461.00 L185.01 461.38 L186.12 461.76 L187.23 462.14 L188.34 462.52 L189.45 462.90 L190.56 463.29 L191.67 463.68 L192.77 464.06 L193.88 464.45 L194.99 464.84 L196.10 465.23 L197.21 465.62 L198.32 466.02 L199.43 466.41 L200.54 466.80 L201.65 467.20 L202.76 467.59 L203.87 467.99 L204.97 468.38 L206.08 468.78 L207.19 469.18 L208.30 469.58 L209.41 469.97 L210.52 470.37 L211.63 470.77 L212.74 471.17 L213.85 471.57 L214.96 471.97 L216.06 472.37 L217.17 472.77 L218.28 473.17 L219.39 473.57 L220.50 473.97 L221.61 474.37 L222.72 474.77 L223.83 475.17 L224.94 475.57 L226.05 475.98 L227.16 476.38 L228.26 476.78 L229.37 477.18 L230.48 477.58 L231.59 477.98 L232.70 478.39 L233.81 478.79 L234.92 479.19 L236.03 479.59 L237.14 480.00 L238.25 480.40 L239.35 480.80 L240.46 481.20 L241.57 481.61 L242.68 482.01 L243.79 482.41 L244.90 482.81" stroke="#ff0000" stroke-width="0.82" fill="none" stroke-linejoin="round" clip-path="url(#clB4)"/>
<path d="M101.00 471.70V488.20" stroke="#ff0000" stroke-width="0.75" fill="none"/>
<path d="M99.70 471.70h2.6M99.70 488.20h2.6" stroke="#ff0000" stroke-width="0.7" fill="none"/>
<ellipse cx="101.00" cy="479.20" rx="1.9" ry="2.05" fill="#ff0000"/>
<path d="M123.50 452.10V457.50" stroke="#ff0000" stroke-width="0.75" fill="none"/>
<path d="M122.20 452.10h2.6M122.20 457.50h2.6" stroke="#ff0000" stroke-width="0.7" fill="none"/>
<ellipse cx="123.50" cy="454.70" rx="1.9" ry="2.05" fill="#ff0000"/>
<path d="M153.70 450.50V454.70" stroke="#ff0000" stroke-width="0.75" fill="none"/>
<path d="M152.40 450.50h2.6M152.40 454.70h2.6" stroke="#ff0000" stroke-width="0.7" fill="none"/>
<ellipse cx="153.70" cy="452.50" rx="1.9" ry="2.05" fill="#ff0000"/>
<path d="M171.90 454.90V458.90" stroke="#ff0000" stroke-width="0.75" fill="none"/>
<path d="M170.60 454.90h2.6M170.60 458.90h2.6" stroke="#ff0000" stroke-width="0.7" fill="none"/>
<ellipse cx="171.90" cy="456.90" rx="1.9" ry="2.05" fill="#ff0000"/>
<path d="M204.30 464.40V471.60" stroke="#ff0000" stroke-width="0.75" fill="none"/>
<path d="M203.00 464.40h2.6M203.00 471.60h2.6" stroke="#ff0000" stroke-width="0.7" fill="none"/>
<ellipse cx="204.30" cy="467.60" rx="1.9" ry="2.05" fill="#ff0000"/>
<path d="M237.50 464.40V479.30" stroke="#ff0000" stroke-width="0.75" fill="none"/>
<path d="M236.20 464.40h2.6M236.20 479.30h2.6" stroke="#ff0000" stroke-width="0.7" fill="none"/>
<ellipse cx="237.50" cy="471.20" rx="1.9" ry="2.05" fill="#ff0000"/>
<path d="M24.20 611.41 L25.31 609.53 L26.42 607.65 L27.53 605.77 L28.64 603.89 L29.75 602.01 L30.85 600.13 L31.96 598.25 L33.07 596.37 L34.18 594.48 L35.29 592.60 L36.40 590.72 L37.51 588.84 L38.62 586.96 L39.73 585.08 L40.84 583.20 L41.94 581.32 L43.05 579.44 L44.16 577.56 L45.27 575.68 L46.38 573.80 L47.49 571.92 L48.60 570.04 L49.71 568.16 L50.82 566.27 L51.93 564.39 L53.04 562.51 L54.14 560.63 L55.25 558.75 L56.36 556.87 L57.47 554.99 L58.58 553.11 L59.69 551.23 L60.80 549.35 L61.91 547.47 L63.02 545.59 L64.13 543.71 L65.23 541.83 L66.34 539.94 L67.45 538.06 L68.56 536.18 L69.67 534.30 L70.78 532.42 L71.89 530.54 L73.00 528.66 L74.11 526.78 L75.22 524.90 L76.33 523.02 L77.43 521.14 L78.54 519.26 L79.65 517.38 L80.76 515.50 L81.87 513.61 L82.98 511.73 L84.09 509.85 L85.20 507.97 L86.31 506.09 L87.42 504.21 L88.52 502.33 L89.63 500.45 L90.74 498.57 L91.85 496.70 L92.96 494.83 L94.07 492.96 L95.18 491.10 L96.29 489.25 L97.40 487.41 L98.51 485.59 L99.62 483.80 L100.72 482.03 L101.83 480.30 L102.94 478.62 L104.05 476.97 L105.16 475.38 L106.27 473.85 L107.38 472.39 L108.49 470.99 L109.60 469.66 L110.71 468.40 L111.81 467.22 L112.92 466.12 L114.03 465.09 L115.14 464.15 L116.25 463.28 L117.36 462.48 L118.47 461.76 L119.58 461.11 L120.69 460.53 L121.80 460.02 L122.91 459.58 L124.01 459.20 L125.12 458.88 L126.23 458.61 L127.34 458.40 L128.45 458.24 L129.56 458.13 L130.67 458.07 L131.78 458.05 L132.89 458.07 L134.00 458.13 L135.10 458.23 L136.21 458.36 L137.32 458.52 L138.43 458.71 L139.54 458.93 L140.65 459.18 L141.76 459.45 L142.87 459.74 L143.98 460.06 L145.09 460.40 L146.19 460.75 L147.30 461.12 L148.41 461.51 L149.52 461.91 L150.63 462.33 L151.74 462.76 L152.85 463.20 L153.96 463.65 L155.07 464.12 L156.18 464.59 L157.29 465.08 L158.39 465.57 L159.50 466.07 L160.61 466.57 L161.72 467.08 L162.83 467.60 L163.94 468.13 L165.05 468.66 L166.16 469.20 L167.27 469.74 L168.38 470.28 L169.48 470.83 L170.59 471.38 L171.70 471.94 L172.81 472.50 L173.92 473.06 L175.03 473.62 L176.14 474.19 L177.25 474.76 L178.36 475.33 L179.47 475.90 L180.58 476.48 L181.68 477.06 L182.79 477.64 L183.90 478.22 L185.01 478.80 L186.12 479.38 L187.23 479.97 L188.34 480.55 L189.45 481.14 L190.56 481.73 L191.67 482.32 L192.77 482.90 L193.88 483.50 L194.99 484.09 L196.10 484.68 L197.21 485.27 L198.32 485.86 L199.43 486.46 L200.54 487.05 L201.65 487.64 L202.76 488.24 L203.87 488.83 L204.97 489.43 L206.08 490.02 L207.19 490.62 L208.30 491.22 L209.41 491.81 L210.52 492.41 L211.63 493.01 L212.74 493.60 L213.85 494.20 L214.96 494.80 L216.06 495.40 L217.17 495.99 L218.28 496.59 L219.39 497.19 L220.50 497.79 L221.61 498.39 L222.72 498.98 L223.83 499.58 L224.94 500.18 L226.05 500.78 L227.16 501.38 L228.26 501.98 L229.37 502.58 L230.48 503.18 L231.59 503.78 L232.70 504.37 L233.81 504.97 L234.92 505.57 L236.03 506.17 L237.14 506.77 L238.25 507.37 L239.35 507.97 L240.46 508.57 L241.57 509.17 L242.68 509.77 L243.79 510.37 L244.90 510.97" stroke="#0000ff" stroke-width="0.82" fill="none" stroke-linejoin="round" clip-path="url(#clB4)"/>
<path d="M123.50 456.40V463.10" stroke="#0000ff" stroke-width="0.75" fill="none"/>
<path d="M122.20 456.40h2.6M122.20 463.10h2.6" stroke="#0000ff" stroke-width="0.7" fill="none"/>
<ellipse cx="123.50" cy="459.50" rx="1.9" ry="2.05" fill="#0000ff"/>
<path d="M153.70 460.10V466.50" stroke="#0000ff" stroke-width="0.75" fill="none"/>
<path d="M152.40 460.10h2.6M152.40 466.50h2.6" stroke="#0000ff" stroke-width="0.7" fill="none"/>
<ellipse cx="153.70" cy="463.10" rx="1.9" ry="2.05" fill="#0000ff"/>
<path d="M171.90 471.30V479.60" stroke="#0000ff" stroke-width="0.75" fill="none"/>
<path d="M170.60 471.30h2.6M170.60 479.60h2.6" stroke="#0000ff" stroke-width="0.7" fill="none"/>
<ellipse cx="171.90" cy="474.90" rx="1.9" ry="2.05" fill="#0000ff"/>
<path d="M204.30 480.60V491.20" stroke="#0000ff" stroke-width="0.75" fill="none"/>
<path d="M203.00 480.60h2.6M203.00 491.20h2.6" stroke="#0000ff" stroke-width="0.7" fill="none"/>
<ellipse cx="204.30" cy="485.60" rx="1.9" ry="2.05" fill="#0000ff"/>
<path d="M237.50 495.50V509.10" stroke="#0000ff" stroke-width="0.75" fill="none"/>
<path d="M236.20 495.50h2.6M236.20 509.10h2.6" stroke="#0000ff" stroke-width="0.7" fill="none"/>
<ellipse cx="237.50" cy="501.80" rx="1.9" ry="2.05" fill="#0000ff"/>
<rect x="184.0" y="518.2" width="54.70" height="35.10" fill="#fff" stroke="#666666" stroke-width="0.9"/>
<path d="M189.90 521.00V531.40" stroke="#ff0000" stroke-width="0.75" fill="none"/>
<path d="M189.00 521.00h1.8M189.00 531.40h1.8" stroke="#ff0000" stroke-width="0.7" fill="none"/>
<ellipse cx="189.90" cy="525.50" rx="1.9" ry="2.05" fill="#ff0000"/>
<path d="M189.90 534.30V544.70" stroke="#0000ff" stroke-width="0.75" fill="none"/>
<path d="M189.00 534.30h1.8M189.00 544.70h1.8" stroke="#0000ff" stroke-width="0.7" fill="none"/>
<ellipse cx="189.90" cy="538.80" rx="1.9" ry="2.05" fill="#0000ff"/>
<text x="197.4" y="529.4" font-size="7.3" font-family="Liberation Serif, serif" fill="#ff0000">Feb 28 2003</text>
<text x="197.4" y="541.6" font-size="7.3" font-family="Liberation Serif, serif" fill="#0000ff">May 11 2003</text>
<text x="40.0" y="437.6" font-size="16.2" font-family="Liberation Serif, serif" fill="#000">B4</text>
<path d="M270.80 626.47 L271.91 624.59 L273.01 622.71 L274.12 620.83 L275.23 618.95 L276.33 617.07 L277.44 615.19 L278.55 613.31 L279.65 611.43 L280.76 609.55 L281.87 607.67 L282.97 605.79 L284.08 603.91 L285.18 602.03 L286.29 600.15 L287.40 598.27 L288.50 596.39 L289.61 594.51 L290.72 592.63 L291.82 590.75 L292.93 588.87 L294.04 586.99 L295.14 585.11 L296.25 583.23 L297.36 581.35 L298.46 579.47 L299.57 577.59 L300.68 575.71 L301.78 573.83 L302.89 571.95 L304.00 570.07 L305.10 568.19 L306.21 566.31 L307.32 564.43 L308.42 562.55 L309.53 560.67 L310.64 558.79 L311.74 556.91 L312.85 555.03 L313.95 553.15 L315.06 551.27 L316.17 549.39 L317.27 547.51 L318.38 545.63 L319.49 543.75 L320.59 541.88 L321.70 540.00 L322.81 538.12 L323.91 536.24 L325.02 534.36 L326.13 532.48 L327.23 530.60 L328.34 528.72 L329.45 526.84 L330.55 524.96 L331.66 523.08 L332.77 521.20 L333.87 519.32 L334.98 517.44 L336.09 515.56 L337.19 513.68 L338.30 511.80 L339.41 509.92 L340.51 508.04 L341.62 506.16 L342.72 504.28 L343.83 502.40 L344.94 500.52 L346.04 498.64 L347.15 496.76 L348.26 494.88 L349.36 493.00 L350.47 491.12 L351.58 489.24 L352.68 487.37 L353.79 485.49 L354.90 483.62 L356.00 481.75 L357.11 479.89 L358.22 478.03 L359.32 476.19 L360.43 474.36 L361.54 472.55 L362.64 470.77 L363.75 469.01 L364.86 467.29 L365.96 465.61 L367.07 463.97 L368.17 462.38 L369.28 460.84 L370.39 459.36 L371.49 457.95 L372.60 456.59 L373.71 455.31 L374.81 454.09 L375.92 452.94 L377.03 451.86 L378.13 450.85 L379.24 449.92 L380.35 449.05 L381.45 448.25 L382.56 447.51 L383.67 446.84 L384.77 446.24 L385.88 445.69 L386.99 445.20 L388.09 444.77 L389.20 444.40 L390.31 444.07 L391.41 443.80 L392.52 443.57 L393.63 443.39 L394.73 443.24 L395.84 443.14 L396.94 443.08 L398.05 443.05 L399.16 443.06 L400.26 443.10 L401.37 443.16 L402.48 443.26 L403.58 443.38 L404.69 443.53 L405.80 443.70 L406.90 443.89 L408.01 444.11 L409.12 444.34 L410.22 444.59 L411.33 444.86 L412.44 445.14 L413.54 445.44 L414.65 445.75 L415.76 446.07 L416.86 446.41 L417.97 446.76 L419.08 447.12 L420.18 447.49 L421.29 447.86 L422.39 448.25 L423.50 448.64 L424.61 449.05 L425.71 449.45 L426.82 449.87 L427.93 450.29 L429.03 450.72 L430.14 451.15 L431.25 451.59 L432.35 452.03 L433.46 452.47 L434.57 452.92 L435.67 453.38 L436.78 453.83 L437.89 454.30 L438.99 454.76 L440.10 455.22 L441.21 455.69 L442.31 456.16 L443.42 456.64 L444.53 457.11 L445.63 457.59 L446.74 458.07 L447.85 458.55 L448.95 459.03 L450.06 459.52 L451.16 460.00 L452.27 460.49 L453.38 460.98 L454.48 461.47 L455.59 461.96 L456.70 462.45 L457.80 462.94 L458.91 463.43 L460.02 463.92 L461.12 464.42 L462.23 464.91 L463.34 465.41 L464.44 465.90 L465.55 466.40 L466.66 466.90 L467.76 467.40 L468.87 467.89 L469.98 468.39 L471.08 468.89 L472.19 469.39 L473.30 469.89 L474.40 470.39 L475.51 470.89 L476.62 471.39 L477.72 471.89 L478.83 472.39 L479.93 472.89 L481.04 473.39 L482.15 473.89 L483.25 474.40 L484.36 474.90 L485.47 475.40 L486.57 475.90 L487.68 476.40 L488.79 476.91 L489.89 477.41 L491.00 477.91" stroke="#ff0000" stroke-width="0.82" fill="none" stroke-linejoin="round" clip-path="url(#clB3)"/>
<path d="M344.60 476.80h6.2l-3.1 6.0z" fill="#ff0000"/>
<path d="M367.00 451.70h6.2l-3.1 6.0z" fill="#ff0000"/>
<path d="M400.30 440.40V443.80" stroke="#ff0000" stroke-width="0.75" fill="none"/>
<path d="M399.00 440.40h2.6M399.00 443.80h2.6" stroke="#ff0000" stroke-width="0.7" fill="none"/>
<ellipse cx="400.30" cy="442.10" rx="1.9" ry="2.05" fill="#ff0000"/>
<path d="M418.60 445.50V448.90" stroke="#ff0000" stroke-width="0.75" fill="none"/>
<path d="M417.30 445.50h2.6M417.30 448.90h2.6" stroke="#ff0000" stroke-width="0.7" fill="none"/>
<ellipse cx="418.60" cy="447.20" rx="1.9" ry="2.05" fill="#ff0000"/>
<path d="M450.50 456.30V461.50" stroke="#ff0000" stroke-width="0.75" fill="none"/>
<path d="M449.20 456.30h2.6M449.20 461.50h2.6" stroke="#ff0000" stroke-width="0.7" fill="none"/>
<ellipse cx="450.50" cy="458.60" rx="1.9" ry="2.05" fill="#ff0000"/>
<path d="M483.70 465.20V480.70" stroke="#ff0000" stroke-width="0.75" fill="none"/>
<path d="M482.40 465.20h2.6M482.40 480.70h2.6" stroke="#ff0000" stroke-width="0.7" fill="none"/>
<ellipse cx="483.70" cy="472.20" rx="1.9" ry="2.05" fill="#ff0000"/>
<path d="M270.80 628.00 L271.91 626.07 L273.01 624.14 L274.12 622.20 L275.23 620.27 L276.33 618.34 L277.44 616.40 L278.55 614.47 L279.65 612.54 L280.76 610.60 L281.87 608.67 L282.97 606.74 L284.08 604.80 L285.18 602.87 L286.29 600.94 L287.40 599.00 L288.50 597.07 L289.61 595.14 L290.72 593.20 L291.82 591.27 L292.93 589.34 L294.04 587.41 L295.14 585.47 L296.25 583.54 L297.36 581.61 L298.46 579.67 L299.57 577.74 L300.68 575.81 L301.78 573.87 L302.89 571.94 L304.00 570.01 L305.10 568.07 L306.21 566.14 L307.32 564.21 L308.42 562.27 L309.53 560.34 L310.64 558.41 L311.74 556.47 L312.85 554.54 L313.95 552.61 L315.06 550.67 L316.17 548.74 L317.27 546.81 L318.38 544.87 L319.49 542.94 L320.59 541.01 L321.70 539.07 L322.81 537.14 L323.91 535.21 L325.02 533.28 L326.13 531.34 L327.23 529.41 L328.34 527.48 L329.45 525.54 L330.55 523.61 L331.66 521.68 L332.77 519.74 L333.87 517.81 L334.98 515.88 L336.09 513.95 L337.19 512.01 L338.30 510.08 L339.41 508.16 L340.51 506.23 L341.62 504.31 L342.72 502.39 L343.83 500.49 L344.94 498.59 L346.04 496.71 L347.15 494.84 L348.26 493.00 L349.36 491.17 L350.47 489.38 L351.58 487.62 L352.68 485.89 L353.79 484.21 L354.90 482.57 L356.00 480.97 L357.11 479.43 L358.22 477.94 L359.32 476.50 L360.43 475.12 L361.54 473.80 L362.64 472.54 L363.75 471.34 L364.86 470.20 L365.96 469.12 L367.07 468.09 L368.17 467.13 L369.28 466.22 L370.39 465.37 L371.49 464.58 L372.60 463.83 L373.71 463.14 L374.81 462.50 L375.92 461.91 L377.03 461.36 L378.13 460.85 L379.24 460.39 L380.35 459.97 L381.45 459.59 L382.56 459.24 L383.67 458.93 L384.77 458.66 L385.88 458.41 L386.99 458.19 L388.09 458.01 L389.20 457.85 L390.31 457.71 L391.41 457.60 L392.52 457.51 L393.63 457.44 L394.73 457.40 L395.84 457.37 L396.94 457.36 L398.05 457.37 L399.16 457.39 L400.26 457.43 L401.37 457.48 L402.48 457.54 L403.58 457.62 L404.69 457.71 L405.80 457.81 L406.90 457.92 L408.01 458.04 L409.12 458.17 L410.22 458.31 L411.33 458.46 L412.44 458.61 L413.54 458.77 L414.65 458.94 L415.76 459.11 L416.86 459.29 L417.97 459.48 L419.08 459.67 L420.18 459.86 L421.29 460.06 L422.39 460.27 L423.50 460.47 L424.61 460.68 L425.71 460.90 L426.82 461.12 L427.93 461.34 L429.03 461.56 L430.14 461.79 L431.25 462.02 L432.35 462.25 L433.46 462.48 L434.57 462.72 L435.67 462.96 L436.78 463.20 L437.89 463.44 L438.99 463.68 L440.10 463.93 L441.21 464.17 L442.31 464.42 L443.42 464.67 L444.53 464.92 L445.63 465.17 L446.74 465.42 L447.85 465.67 L448.95 465.93 L450.06 466.18 L451.16 466.44 L452.27 466.69 L453.38 466.95 L454.48 467.20 L455.59 467.46 L456.70 467.72 L457.80 467.98 L458.91 468.24 L460.02 468.50 L461.12 468.76 L462.23 469.02 L463.34 469.28 L464.44 469.54 L465.55 469.80 L466.66 470.06 L467.76 470.33 L468.87 470.59 L469.98 470.85 L471.08 471.11 L472.19 471.38 L473.30 471.64 L474.40 471.90 L475.51 472.17 L476.62 472.43 L477.72 472.70 L478.83 472.96 L479.93 473.22 L481.04 473.49 L482.15 473.75 L483.25 474.02 L484.36 474.28 L485.47 474.55 L486.57 474.81 L487.68 475.08 L488.79 475.34 L489.89 475.61 L491.00 475.87" stroke="#0000ff" stroke-width="0.82" fill="none" stroke-linejoin="round" clip-path="url(#clB3)"/>
<path d="M450.5 467.4L483.7 486.5L488.5 489.2" stroke="#0000ff" stroke-width="0.75" fill="none" stroke-dasharray="2.6 1.5"/>
<path d="M370.10 462.10V469.20" stroke="#0000ff" stroke-width="0.75" fill="none"/>
<path d="M368.80 462.10h2.6M368.80 469.20h2.6" stroke="#0000ff" stroke-width="0.7" fill="none"/>
<ellipse cx="370.10" cy="465.60" rx="1.9" ry="2.05" fill="#0000ff"/>
<path d="M400.30 457.50V460.70" stroke="#0000ff" stroke-width="0.75" fill="none"/>
<path d="M399.00 457.50h2.6M399.00 460.70h2.6" stroke="#0000ff" stroke-width="0.7" fill="none"/>
<ellipse cx="400.30" cy="459.10" rx="1.9" ry="2.05" fill="#0000ff"/>
<path d="M418.60 456.70V459.90" stroke="#0000ff" stroke-width="0.75" fill="none"/>
<path d="M417.30 456.70h2.6M417.30 459.90h2.6" stroke="#0000ff" stroke-width="0.7" fill="none"/>
<ellipse cx="418.60" cy="458.30" rx="1.9" ry="2.05" fill="#0000ff"/>
<path d="M450.50 464.40V471.40" stroke="#0000ff" stroke-width="0.75" fill="none"/>
<path d="M449.20 464.40h2.6M449.20 471.40h2.6" stroke="#0000ff" stroke-width="0.7" fill="none"/>
<ellipse cx="450.50" cy="467.40" rx="1.9" ry="2.05" fill="#0000ff"/>
<path d="M483.70 480.20V495.10" stroke="#0000ff" stroke-width="0.75" fill="none"/>
<path d="M482.40 480.20h2.6M482.40 495.10h2.6" stroke="#0000ff" stroke-width="0.7" fill="none"/>
<ellipse cx="483.70" cy="486.50" rx="1.9" ry="2.05" fill="#0000ff"/>
<rect x="433.2" y="519.4" width="51.40" height="33.90" fill="#fff" stroke="#666666" stroke-width="0.9"/>
<path d="M439.00 522.10V533.50" stroke="#ff0000" stroke-width="0.75" fill="none" stroke-dasharray="1.2 0.7"/>
<path d="M438.10 522.10h1.8M438.10 533.50h1.8" stroke="#ff0000" stroke-width="0.7" fill="none"/>
<ellipse cx="439.00" cy="527.10" rx="1.9" ry="2.05" fill="#ff0000"/>
<path d="M439.00 535.90V547.30" stroke="#0000ff" stroke-width="0.75" fill="none" stroke-dasharray="1.2 0.7"/>
<path d="M438.10 535.90h1.8M438.10 547.30h1.8" stroke="#0000ff" stroke-width="0.7" fill="none"/>
<ellipse cx="439.00" cy="540.90" rx="1.9" ry="2.05" fill="#0000ff"/>
<text x="446.7" y="531.4" font-size="6.4" font-family="Liberation Serif, serif" fill="#ff0000">Feb 28 2003</text>
<text x="446.7" y="543.5" font-size="6.4" font-family="Liberation Serif, serif" fill="#0000ff">May 11 2003</text>
<text x="288.2" y="436.9" font-size="16.2" font-family="Liberation Serif, serif" fill="#000">B3</text>
<path d="M195.20 30.20L162.55 42.56" stroke="#000" stroke-width="3.0" fill="none"/>
<path d="M153.20 46.10L161.86 37.90L165.12 46.51z" fill="#000"/>
<path d="M411.30 41.50L384.54 44.61" stroke="#000" stroke-width="3.0" fill="none"/>
<path d="M375.10 45.70L384.98 39.72L386.08 49.26z" fill="#000"/>
<path d="M350.0 217.5L359.2 220.8L351.0 228.3z" fill="#000"/>
<path d="M132.0 458.3L134.8 450.0L136.6 451.5L138.9 449.9L141.1 454.9z" fill="#000"/>
<path d="M395.0 445.7L405.0 446.3L399.4 455.6z" fill="#000"/>
</svg>
</body></html>
